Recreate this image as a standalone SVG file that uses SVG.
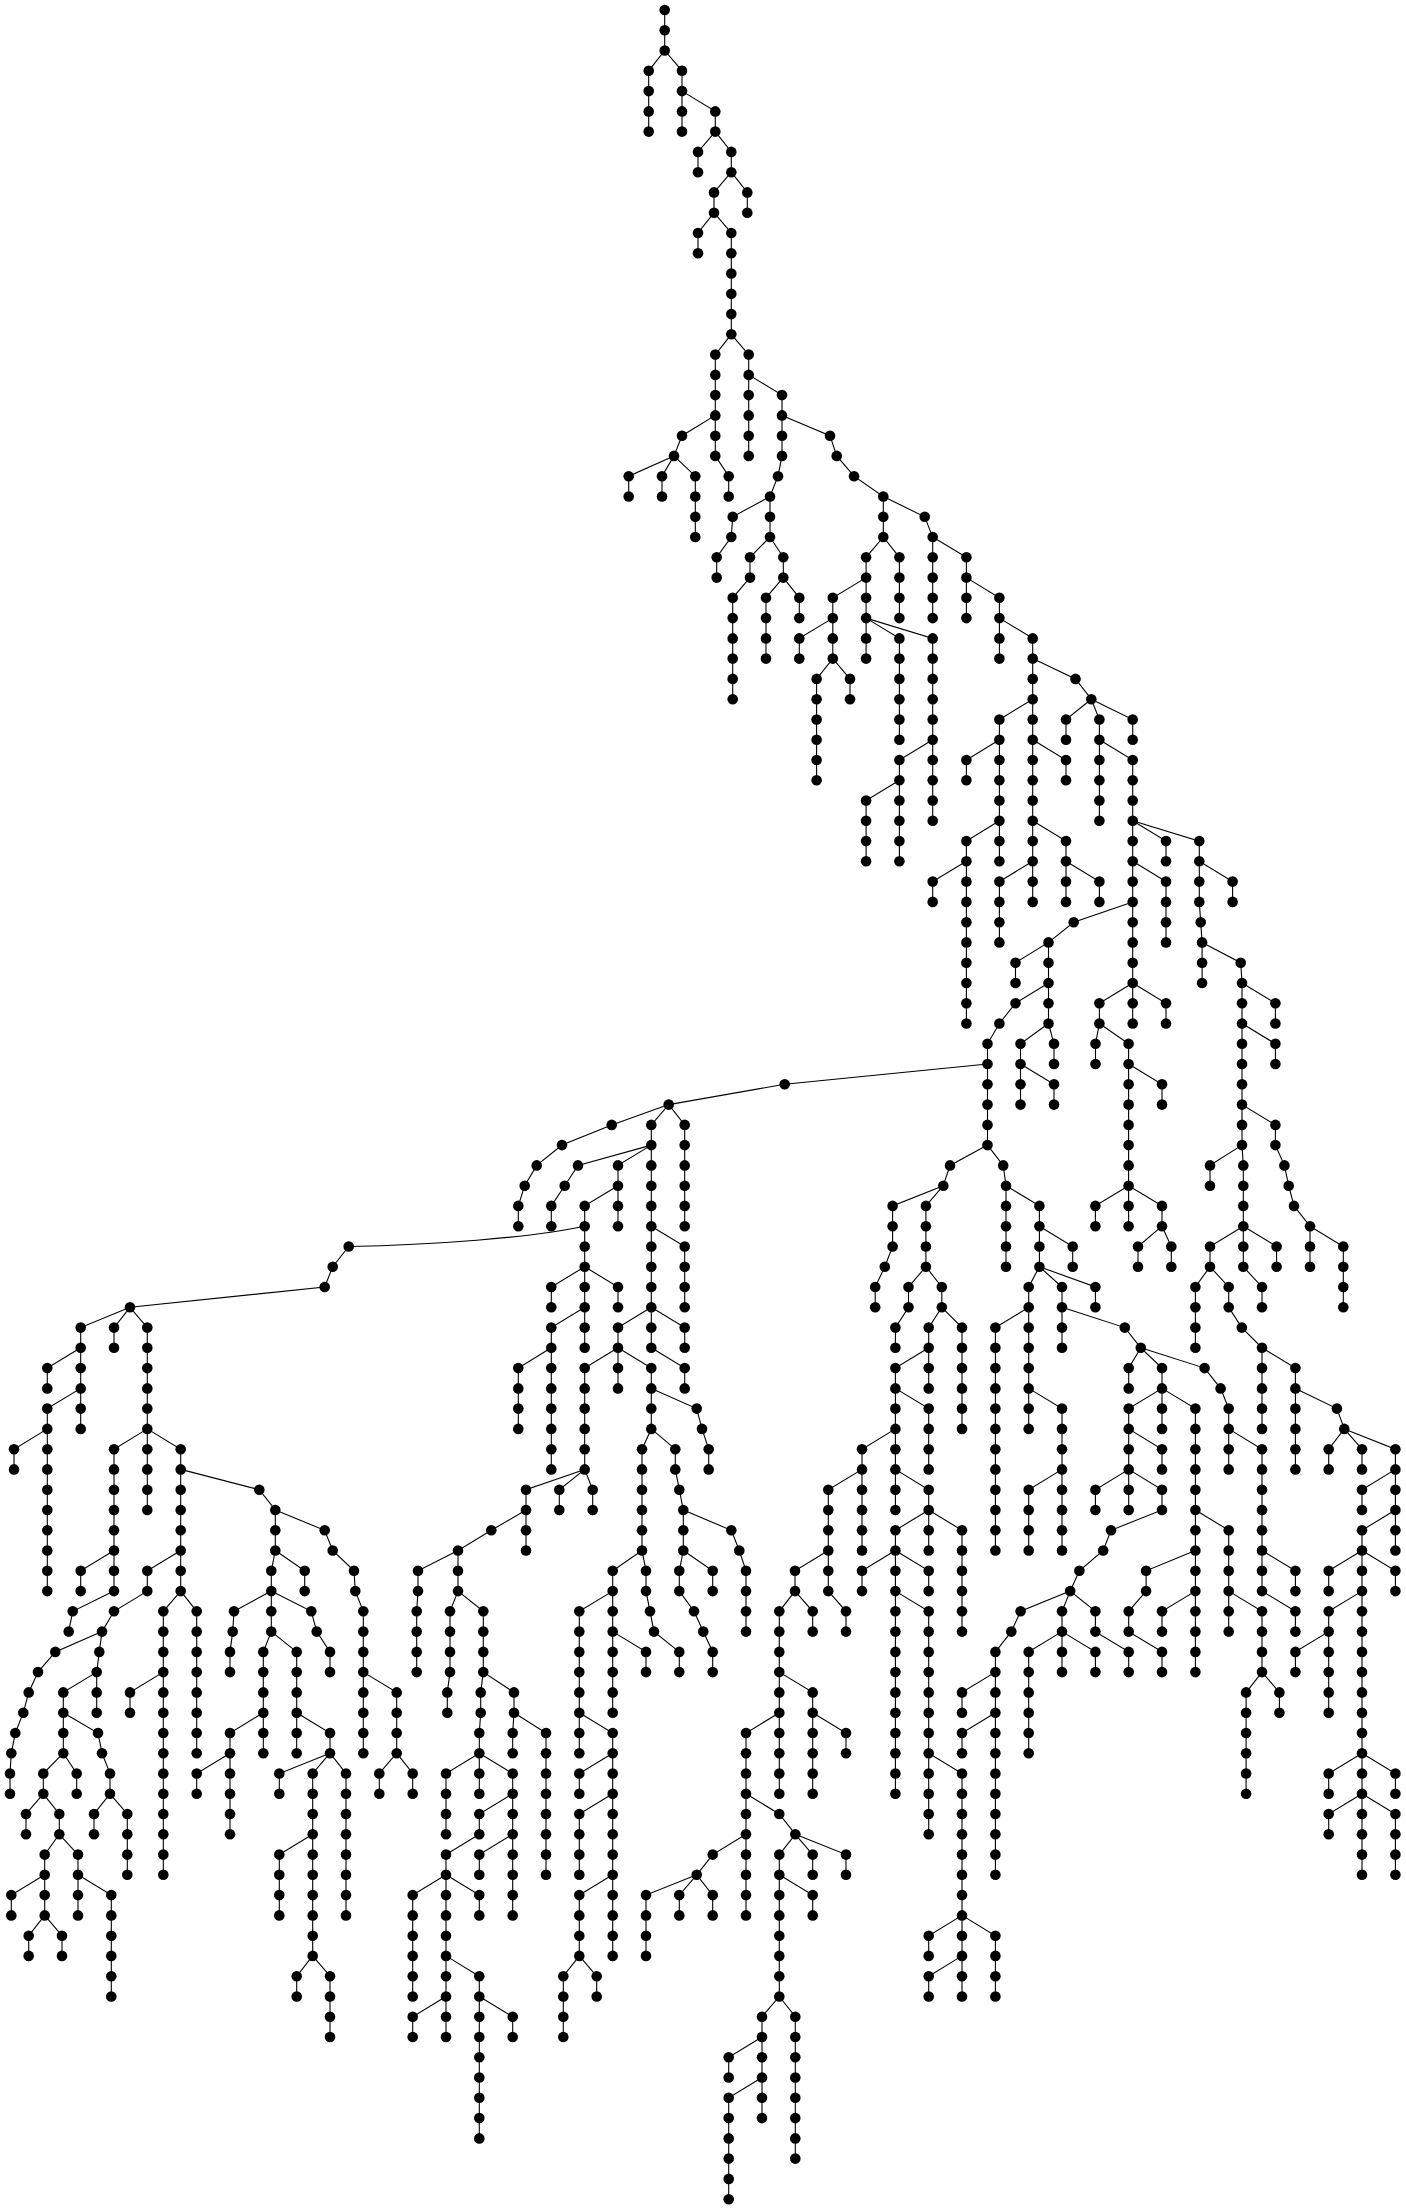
<svg xmlns="http://www.w3.org/2000/svg" width="1406" height="2209" viewBox="0 0 1406 2209">
<style>
rect.bg{fill:#fff}
circle{r:5.3px;fill:#000}
#connectors path{fill:none;stroke:#000;stroke-width:1.1}
</style>
<rect class="bg" width="1406" height="2209"/>
<g id="connectors">
<path d="M664.7 10V50.5"/>
<path d="M664.7 50.5L648.7 70.8V131.6"/>
<path d="M664.7 50.5L682 70.8V131.6"/>
<path d="M682 91.1L715.3 111.4V131.6"/>
<path d="M715.3 131.6L698 151.9V172.2"/>
<path d="M715.3 131.6L731.3 151.9V172.2"/>
<path d="M731.3 172.2L714 192.4V212.7"/>
<path d="M731.3 172.2L747.3 192.4V212.7"/>
<path d="M714 212.7L698 233V253.2"/>
<path d="M714 212.7L731.3 233V334.3"/>
<path d="M731.3 334.3L715.3 354.6V455.9"/>
<path d="M731.3 334.3L748.7 354.6V455.9"/>
<path d="M748.7 374.9L782 395.1V455.9L778 476.2L770 496.5V537"/>
<path d="M715.3 415.4L682 435.7L674 455.9"/>
<path d="M674 455.9L628.7 476.2V496.5"/>
<path d="M674 455.9L662 476.2V496.5"/>
<path d="M674 455.9L695.3 476.2V537"/>
<path d="M715.3 455.9L728.7 476.2V496.5"/>
<path d="M782 415.4L830 435.7L836.7 455.9L854 476.2L883.3 496.5V537"/>
<path d="M883.3 496.5L924.7 516.8L932.7 537V618.1"/>
<path d="M770 496.5L732.7 516.8L731.3 537L716.7 557.3V577.6"/>
<path d="M770 537L750 557.3V577.6L732.7 597.8V699.2"/>
<path d="M770 537L783.3 557.3V577.6L766 597.8V658.6"/>
<path d="M783.3 577.6L799.3 597.8V618.1"/>
<path d="M883.3 537L866.1 557.3V658.6"/>
<path d="M883.3 537L899.4 557.3V618.1"/>
<path d="M866.1 577.6L832.8 597.8V658.6"/>
<path d="M832.8 618.1L799.3 638.4V658.6"/>
<path d="M832.8 658.6L816.6 678.9V780.3"/>
<path d="M832.8 658.6L850 678.9V699.2"/>
<path d="M866.1 618.1L899.4 638.4V739.7"/>
<path d="M866.1 618.1L932.7 638.4V820.8"/>
<path d="M932.7 739.7L899.4 760V861.3"/>
<path d="M899.4 780.3L866.1 800.5V861.3"/>
<path d="M932.7 537L966.4 557.3V618.1"/>
<path d="M966.4 577.6L999.4 597.8V658.6"/>
<path d="M999.4 618.1L1032.7 638.4V901.9"/>
<path d="M1032.7 658.6L1075.5 678.9L1091.3 699.2"/>
<path d="M1032.7 699.2L999.4 719.5V861.3"/>
<path d="M999.4 739.7L966.4 760V780.3"/>
<path d="M999.4 820.8L966.4 841.1V1023.5"/>
<path d="M966.4 861.3L932.7 881.6V901.9"/>
<path d="M1032.7 739.7L1066 760V780.3"/>
<path d="M1032.7 820.8L1066 841.1V901.9"/>
<path d="M1066 861.3L1099.4 881.6V901.9"/>
<path d="M1032.7 861.3L999.4 881.6V942.4"/>
<path d="M1091.3 699.2L1066 719.5V739.7"/>
<path d="M1091.3 699.2L1099.4 719.5V820.8"/>
<path d="M1091.3 699.2L1132.7 719.5V739.7"/>
<path d="M1099.4 739.7L1132.7 760V1023.5"/>
<path d="M1132.7 820.8L1166 841.1V861.3"/>
<path d="M1132.7 820.8L1199.3 841.1V901.9L1200.7 922.2L1202.1 942.4V983"/>
<path d="M1199.3 861.3L1232.6 881.6V901.9"/>
<path d="M1202.1 942.4L1240.7 962.7L1242 983V1145.1"/>
<path d="M1242 983L1275.4 1003.2V1023.5"/>
<path d="M1242 1023.5L1275.4 1043.8V1064"/>
<path d="M1242 1104.6L1275.4 1124.9V1145.1L1284.4 1165.4L1288.7 1185.7L1294 1205.9L1310 1226.2V1266.7"/>
<path d="M1310 1226.2L1343.3 1246.5V1307.3"/>
<path d="M1242 1145.1L1243.3 1165.4V1266.7"/>
<path d="M1242 1145.1L1210 1165.4V1185.7"/>
<path d="M1243.3 1226.2L1210 1246.5V1266.7"/>
<path d="M1243.3 1226.2L1276.6 1246.5V1266.7"/>
<path d="M1243.3 1266.7L1262 1287V1307.3"/>
<path d="M1210 1266.7L1195.4 1287V1347.8"/>
<path d="M1210 1266.7L1228.7 1287V1307.3L1241.8 1327.6L1262 1347.8V1428.9"/>
<path d="M1262 1347.8L1295.4 1368.1V1469.4"/>
<path d="M1295.4 1388.4L1336.9 1408.6L1344.3 1428.9"/>
<path d="M1344.3 1428.9L1328.7 1449.2V1469.4"/>
<path d="M1344.3 1428.9L1362 1449.2V1469.4"/>
<path d="M1344.3 1428.9L1395.4 1449.2V1550.5"/>
<path d="M1395.4 1469.4L1362 1489.7V1510"/>
<path d="M1395.4 1510L1362 1530.3V1874.8"/>
<path d="M1362 1550.5L1328.7 1570.8V1591.1"/>
<path d="M1362 1550.5L1395.4 1570.8V1591.1"/>
<path d="M1362 1591.1L1328.7 1611.3V1712.7"/>
<path d="M1328.7 1651.9M1328.7 1631.6L1295.4 1651.9V1672.1"/>
<path d="M1362 1753.2L1328.7 1773.5V1793.8"/>
<path d="M1362 1753.2L1395.4 1773.5V1793.8"/>
<path d="M1362 1793.8L1328.7 1814V1834.3"/>
<path d="M1362 1793.8L1395.4 1814V1874.8"/>
<path d="M1132.7 861.3L1166 881.6V942.4"/>
<path d="M1132.7 901.9L1073.7 922.2L1048.5 942.4V1023.5"/>
<path d="M1048.5 942.4L1015.5 962.7V983"/>
<path d="M1048.5 983L1015.5 1003.2L999.4 1023.5L987.5 1043.8V1145.1"/>
<path d="M1048.5 1023.5L1020.5 1043.8V1104.6"/>
<path d="M1048.5 1023.5L1054 1043.8V1064"/>
<path d="M1020.5 1064L1054 1084.3V1104.6"/>
<path d="M1132.7 983L1099.4 1003.2V1023.5"/>
<path d="M1132.7 983L1166 1003.2V1023.5"/>
<path d="M1099.4 1023.5L1095.5 1043.8V1064"/>
<path d="M1099.4 1023.5L1128.6 1043.8V1226.2"/>
<path d="M1128.6 1064L1162 1084.3V1104.6"/>
<path d="M1128.6 1185.7L1095.4 1205.9V1226.2"/>
<path d="M1128.6 1185.7L1162 1205.9V1226.2"/>
<path d="M1162 1226.2L1138 1246.5V1266.7"/>
<path d="M1162 1226.2L1171.3 1246.5V1266.7"/>
<path d="M987.5 1145.1L950 1165.4L943.3 1185.7"/>
<path d="M943.3 1185.7L892.6 1205.9V1246.5L884.8 1266.7L875.2 1287V1307.3"/>
<path d="M943.3 1185.7L925.9 1205.9V1266.7"/>
<path d="M925.9 1266.7L908.5 1287V1307.3L895.4 1327.6V1347.8"/>
<path d="M925.9 1266.7L941.8 1287V1307.3"/>
<path d="M941.8 1307.3L928.7 1327.6V1388.4"/>
<path d="M941.8 1307.3L962 1327.6V1428.9"/>
<path d="M928.7 1347.8L895.4 1368.1V1510"/>
<path d="M895.4 1388.4L928.7 1408.6V1469.4"/>
<path d="M895.4 1428.9L862 1449.2V1550.5"/>
<path d="M895.4 1469.4L928.7 1489.7V1550.5"/>
<path d="M928.7 1510L895.4 1530.3V1793.8"/>
<path d="M928.7 1510L962 1530.3V1631.6"/>
<path d="M895.4 1550.5L862 1570.8V1591.1"/>
<path d="M895.4 1550.5L928.7 1570.8V1591.1"/>
<path d="M895.4 1591.1L928.7 1611.3V1834.3"/>
<path d="M928.7 1753.2L962 1773.5V1996.5"/>
<path d="M962 1915.4L928.7 1935.7V1955.9"/>
<path d="M962 1915.4L995.4 1935.7V1996.5"/>
<path d="M962 1955.9L928.7 1976.2V1996.5"/>
<path d="M987.5 1145.1L1003.2 1165.4L1006 1185.7V1266.7"/>
<path d="M1006 1185.7L1039.4 1205.9V1266.7"/>
<path d="M1039.4 1226.2L1072.7 1246.5V1266.7"/>
<path d="M1039.4 1266.7L1028.7 1287V1428.9"/>
<path d="M1039.4 1266.7L1062 1287V1347.8"/>
<path d="M1039.4 1266.7L1095.4 1287V1307.3"/>
<path d="M1062 1307.3L1124.8 1327.6L1140.8 1347.8"/>
<path d="M1028.7 1307.3L995.4 1327.6V1550.5"/>
<path d="M1028.7 1388.4L1062 1408.6V1550.5"/>
<path d="M1062 1469.4L1028.7 1489.7V1550.5"/>
<path d="M1140.8 1347.8L1128.7 1368.1V1388.4"/>
<path d="M1140.8 1347.8L1162 1368.1V1388.4"/>
<path d="M1140.8 1347.8L1204.6 1368.1L1220.6 1388.4L1228.7 1408.6V1469.4"/>
<path d="M1162 1388.4L1128.7 1408.6V1510"/>
<path d="M1162 1388.4L1162 1408.6V1428.9"/>
<path d="M1162 1388.4L1195.4 1408.6V1672.1"/>
<path d="M1128.7 1428.9L1162 1449.2V1469.4"/>
<path d="M1128.7 1469.4L1095.4 1489.7V1510"/>
<path d="M1128.7 1469.4L1162 1489.7V1510L1111 1530.3L1103.2 1550.5L1079.4 1570.8L1070.2 1591.1"/>
<path d="M1070.2 1591.1L1020.6 1611.3L1011.3 1631.6L995.4 1651.9V1874.8"/>
<path d="M995.4 1672.1L962 1692.4V1712.7"/>
<path d="M995.4 1712.7L962 1733V1753.2"/>
<path d="M1070.2 1591.1L1062 1611.3V1672.1"/>
<path d="M1062 1631.6L1028.7 1651.9V1753.2"/>
<path d="M1062 1631.6L1095.4 1651.9V1672.1"/>
<path d="M1070.2 1591.1L1095.4 1611.3V1631.6L1128.7 1651.9V1672.1"/>
<path d="M1195.4 1510L1228.7 1530.3V1631.6"/>
<path d="M1228.7 1428.9L1262 1449.2V1591.1"/>
<path d="M1262 1550.5L1295.4 1570.8V1591.1"/>
<path d="M1262 1591.1L1295.4 1611.3V1631.6"/>
<path d="M1228.7 1591.1L1262 1611.3V1672.1"/>
<path d="M1262 1672.1L1246.1 1692.4V1793.8"/>
<path d="M1262 1672.1L1279.4 1692.4V1712.7"/>
<path d="M1195.4 1550.5L1146.1 1570.8V1591.1L1128.7 1611.3V1631.6L1162 1651.9V1672.1"/>
<path d="M1195.4 1591.1L1162 1611.3V1631.6"/>
<path d="M987.5 1064L784.7 1084.3L668.7 1104.6"/>
<path d="M668.7 1104.6L611.7 1124.9L562 1145.1L536.7 1165.4L524.7 1185.7L518.3 1205.9V1226.2"/>
<path d="M668.7 1104.6L651.3 1124.9V1347.8"/>
<path d="M668.7 1104.6L684.7 1124.9V1226.2"/>
<path d="M651.3 1226.2L684.7 1246.5V1307.3"/>
<path d="M651.3 1145.1L578 1165.4L564.7 1185.7L551.3 1205.9V1226.2"/>
<path d="M651.3 1145.1L618 1165.4V1226.2"/>
<path d="M618 1185.7L584.7 1205.9V1347.8"/>
<path d="M584.7 1266.7L551.3 1287V1307.3"/>
<path d="M584.7 1266.7L618 1287V1307.3"/>
<path d="M584.7 1307.3L551.3 1327.6V1469.4"/>
<path d="M551.3 1347.8L518.3 1368.1V1428.9"/>
<path d="M651.3 1307.3L618 1327.6V1388.4"/>
<path d="M651.3 1307.3L684.7 1327.6V1347.8"/>
<path d="M618 1347.8L584.7 1368.1V1469.4"/>
<path d="M618 1347.8L651.3 1368.1V1428.9"/>
<path d="M651.3 1347.8L684.7 1368.1V1388.4"/>
<path d="M651.3 1388.4L696.7 1408.6L702 1428.9L708.7 1449.2V1469.4"/>
<path d="M651.3 1428.9L642 1449.2V1550.5"/>
<path d="M651.3 1428.9L675.3 1449.2V1469.4L679.3 1489.7L683.3 1510V1550.5"/>
<path d="M584.7 1469.4L526 1489.7V1550.5"/>
<path d="M584.7 1469.4L559.3 1489.7V1510"/>
<path d="M584.7 1469.4L592.7 1489.7V1510"/>
<path d="M526 1510L491.3 1530.3L458 1550.5V1591.1"/>
<path d="M458 1550.5L418 1570.8V1591.1L416.7 1611.3V1672.1"/>
<path d="M458 1591.1L450 1611.3V1672.1L447.3 1692.4V1712.7"/>
<path d="M458 1591.1L483.3 1611.3V1672.1L480.7 1692.4V1712.7L479.3 1733V1793.8"/>
<path d="M483.3 1672.1L514 1692.4V1712.7"/>
<path d="M514 1712.7L512.7 1733V1753.2"/>
<path d="M514 1712.7L546 1733V1874.8"/>
<path d="M479.3 1753.2L446 1773.5V1834.3"/>
<path d="M479.3 1753.2L512.7 1773.5V1915.4"/>
<path d="M512.7 1793.8L479.3 1814V1834.3"/>
<path d="M512.7 1834.3L479.3 1854.6V1874.8"/>
<path d="M479.3 1834.3L446 1854.6V2037"/>
<path d="M446 1874.8L412.7 1895.1V1996.5"/>
<path d="M446 1874.8L479.3 1895.1V1915.4"/>
<path d="M446 1955.9L479.3 1976.2V2138.4"/>
<path d="M446 1996.5L412.7 2016.7V2037"/>
<path d="M479.3 1996.5L512.7 2016.7V2037"/>
<path d="M642 1550.5L612.7 1570.8V1712.7"/>
<path d="M642 1550.5L646 1570.8V1591.1L650 1611.3L654 1631.6L679.3 1651.9V1672.1"/>
<path d="M612.7 1591.1L579.3 1611.3V1753.2"/>
<path d="M612.7 1631.6L646 1651.9V1672.1"/>
<path d="M579.3 1712.7L612.7 1733V1955.9"/>
<path d="M612.7 1753.2L579.3 1773.5V1793.8"/>
<path d="M612.7 1793.8L579.3 1814V1874.8"/>
<path d="M612.7 1874.8L579.3 1895.1V1955.9"/>
<path d="M579.3 1955.9L563.3 1976.2V2037"/>
<path d="M579.3 1955.9L596.7 1976.2V1996.5"/>
<path d="M683.3 1510L731.3 1530.3L739.3 1550.5L746 1570.8V1631.6"/>
<path d="M683.3 1550.5L679.3 1570.8V1591.1L694 1611.3L703.3 1631.6L712.7 1651.9V1672.1"/>
<path d="M683.3 1550.5L712.7 1570.8V1591.1"/>
<path d="M862 1469.4L828.3 1489.7V1591.1"/>
<path d="M828.3 1550.5L795 1570.8V1591.1"/>
<path d="M795 1591.1L779.3 1611.3V1793.8"/>
<path d="M795 1591.1L812.7 1611.3V1631.6"/>
<path d="M828.3 1591.1L846 1611.3V1631.6"/>
<path d="M779.3 1672.1L812.7 1692.4V1793.8"/>
<path d="M812.7 1712.7L846 1733V1753.2"/>
<path d="M779.3 1712.7L746 1733V1915.4"/>
<path d="M746 1793.8L779.3 1814L795.3 1834.3"/>
<path d="M746 1834.3L712.7 1854.6L696.7 1874.8"/>
<path d="M696.7 1874.8L646 1895.1V1955.9"/>
<path d="M696.7 1874.8L679.3 1895.1V1915.4"/>
<path d="M696.7 1874.8L712.7 1895.1V1915.4"/>
<path d="M795.3 1834.3L779.3 1854.6V1996.5"/>
<path d="M795.3 1834.3L812.7 1854.6V1874.8"/>
<path d="M795.3 1834.3L846 1854.6V1874.8"/>
<path d="M779.3 1874.8L812.7 1895.1V1915.4"/>
<path d="M779.3 1996.5L762 2016.7V2118.1"/>
<path d="M779.3 1996.5L795.3 2016.7V2158.6"/>
<path d="M762 2037L728.7 2057.3V2077.5"/>
<path d="M762 2077.5L728.7 2097.8V2199.2"/>
<path d="M584.7 1226.2C530 1238 430 1245 348.7 1246.5L332.7 1266.7L324.7 1287L130 1307.3"/>
<path d="M130 1307.3L80.7 1327.6V1428.9"/>
<path d="M130 1307.3L114 1327.6V1347.8"/>
<path d="M130 1307.3L147.3 1327.6V1428.9"/>
<path d="M80.7 1347.8L47.3 1368.1V1388.4"/>
<path d="M80.7 1388.4L47.3 1408.6V1591.1"/>
<path d="M47.3 1428.9L14 1449.2V1469.4"/>
<path d="M147.3 1428.9L114 1449.2V1591.1"/>
<path d="M147.3 1428.9L147.3 1449.2V1510"/>
<path d="M147.3 1428.9L180.7 1449.2V1591.1"/>
<path d="M114 1550.5L80.7 1570.8V1591.1"/>
<path d="M180.7 1469.4L259.3 1489.7L275.3 1510V1550.5"/>
<path d="M180.7 1550.5L147.3 1570.8V1591.1"/>
<path d="M180.7 1591.1L163.3 1611.3V1874.8"/>
<path d="M180.7 1591.1L196.7 1611.3V1753.2"/>
<path d="M163.3 1672.1L130 1692.4V1712.7"/>
<path d="M114 1591.1L72.7 1611.3L68.7 1631.6"/>
<path d="M147.3 1591.1L114 1611.3L102 1631.6"/>
<path d="M102 1631.6L55.3 1651.9L38 1672.1L28.7 1692.4L23.3 1712.7L15.3 1733L11.3 1753.2L10 1773.5V1793.8"/>
<path d="M102 1631.6L99.3 1651.9L96.7 1672.1V1712.7"/>
<path d="M96.7 1672.1L63.3 1692.4V1753.2"/>
<path d="M63.3 1712.7L98 1733L102 1753.2L110 1773.5V1793.8"/>
<path d="M110 1793.8L94 1814V1834.3"/>
<path d="M110 1793.8L127.3 1814V1874.8"/>
<path d="M63.3 1753.2L43.3 1773.5V1793.8"/>
<path d="M63.3 1753.2L76.7 1773.5V1793.8"/>
<path d="M43.3 1793.8L26 1814V1834.3"/>
<path d="M43.3 1793.8L59.3 1814V1834.3"/>
<path d="M59.3 1834.3L44.7 1854.6V1915.4"/>
<path d="M59.3 1834.3L78 1854.6V1915.4"/>
<path d="M44.7 1874.8L11.3 1895.1V1915.4"/>
<path d="M44.7 1915.4L28.7 1935.7V1955.9"/>
<path d="M44.7 1915.4L62 1935.7V1955.9"/>
<path d="M78 1874.8L111.3 1895.1V1996.5"/>
<path d="M275.3 1550.5L271.3 1570.8V1631.6"/>
<path d="M275.3 1550.5L304.7 1570.8V1591.1"/>
<path d="M271.3 1591.1L234 1611.3L232.7 1631.6L230 1651.9V1672.1"/>
<path d="M271.3 1631.6L263.3 1651.9V1753.2"/>
<path d="M271.3 1631.6L296.7 1651.9V1753.2"/>
<path d="M271.3 1591.1L311.3 1611.3L316.7 1631.6L330 1651.9V1672.1"/>
<path d="M263.3 1712.7L230 1733V1834.3"/>
<path d="M230 1753.2L196.7 1773.5V1793.8"/>
<path d="M296.7 1712.7L330 1733V1753.2"/>
<path d="M330 1753.2L279.3 1773.5V1793.8"/>
<path d="M330 1753.2L312.7 1773.5V1955.9"/>
<path d="M330 1753.2L346 1773.5V1915.4"/>
<path d="M312.7 1834.3L279.3 1854.6V1915.4"/>
<path d="M312.7 1955.9L296.7 1976.2V1996.5"/>
<path d="M312.7 1955.9L330 1976.2V2037"/>
<path d="M275.3 1510L324.7 1530.3L332.7 1550.5L354 1570.8L355.3 1591.1L363.3 1611.3V1753.2"/>
<path d="M363.3 1672.1L396.7 1692.4V1753.2"/>
<path d="M396.7 1753.2L379.3 1773.5V1793.8"/>
<path d="M396.7 1753.2L412.7 1773.5V1793.8"/>
</g>
<g id="n664_0"><circle cx="664.7" cy="10"/></g>
<g id="n664_1"><circle cx="664.7" cy="30.3"/></g>
<g id="n664_2"><circle cx="664.7" cy="50.5"/></g>
<g id="n648_3"><circle cx="648.7" cy="70.8"/></g>
<g id="n648_4"><circle cx="648.7" cy="91.1"/></g>
<g id="n648_5"><circle cx="648.7" cy="111.4"/></g>
<g id="n648_6"><circle cx="648.7" cy="131.6"/></g>
<g id="n682_3"><circle cx="682" cy="70.8"/></g>
<g id="n682_4"><circle cx="682" cy="91.1"/></g>
<g id="n682_5"><circle cx="682" cy="111.4"/></g>
<g id="n682_6"><circle cx="682" cy="131.6"/></g>
<g id="n715_5"><circle cx="715.3" cy="111.4"/></g>
<g id="n715_6"><circle cx="715.3" cy="131.6"/></g>
<g id="n698_7"><circle cx="698" cy="151.9"/></g>
<g id="n698_8"><circle cx="698" cy="172.2"/></g>
<g id="n731_7"><circle cx="731.3" cy="151.9"/></g>
<g id="n731_8"><circle cx="731.3" cy="172.2"/></g>
<g id="n714_9"><circle cx="714" cy="192.4"/></g>
<g id="n714_10"><circle cx="714" cy="212.7"/></g>
<g id="n747_9"><circle cx="747.3" cy="192.4"/></g>
<g id="n747_10"><circle cx="747.3" cy="212.7"/></g>
<g id="n698_11"><circle cx="698" cy="233"/></g>
<g id="n698_12"><circle cx="698" cy="253.2"/></g>
<g id="n731_11"><circle cx="731.3" cy="233"/></g>
<g id="n731_12"><circle cx="731.3" cy="253.2"/></g>
<g id="n731_13"><circle cx="731.3" cy="273.5"/></g>
<g id="n731_14"><circle cx="731.3" cy="293.8"/></g>
<g id="n731_15"><circle cx="731.3" cy="314.1"/></g>
<g id="n731_16"><circle cx="731.3" cy="334.3"/></g>
<g id="n715_17"><circle cx="715.3" cy="354.6"/></g>
<g id="n715_18"><circle cx="715.3" cy="374.9"/></g>
<g id="n715_19"><circle cx="715.3" cy="395.1"/></g>
<g id="n715_20"><circle cx="715.3" cy="415.4"/></g>
<g id="n715_21"><circle cx="715.3" cy="435.7"/></g>
<g id="n715_22"><circle cx="715.3" cy="455.9"/></g>
<g id="n748_17"><circle cx="748.7" cy="354.6"/></g>
<g id="n748_18"><circle cx="748.7" cy="374.9"/></g>
<g id="n748_19"><circle cx="748.7" cy="395.1"/></g>
<g id="n748_20"><circle cx="748.7" cy="415.4"/></g>
<g id="n748_21"><circle cx="748.7" cy="435.7"/></g>
<g id="n748_22"><circle cx="748.7" cy="455.9"/></g>
<g id="n782_19"><circle cx="782" cy="395.1"/></g>
<g id="n782_20"><circle cx="782" cy="415.4"/></g>
<g id="n782_21"><circle cx="782" cy="435.7"/></g>
<g id="n782_22"><circle cx="782" cy="455.9"/></g>
<g id="n778_23"><circle cx="778" cy="476.2"/></g>
<g id="n770_24"><circle cx="770" cy="496.5"/></g>
<g id="n770_25"><circle cx="770" cy="516.8"/></g>
<g id="n770_26"><circle cx="770" cy="537"/></g>
<g id="n682_21"><circle cx="682" cy="435.7"/></g>
<g id="n674_22"><circle cx="674" cy="455.9"/></g>
<g id="n628_23"><circle cx="628.7" cy="476.2"/></g>
<g id="n628_24"><circle cx="628.7" cy="496.5"/></g>
<g id="n662_23"><circle cx="662" cy="476.2"/></g>
<g id="n662_24"><circle cx="662" cy="496.5"/></g>
<g id="n695_23"><circle cx="695.3" cy="476.2"/></g>
<g id="n695_24"><circle cx="695.3" cy="496.5"/></g>
<g id="n695_25"><circle cx="695.3" cy="516.8"/></g>
<g id="n695_26"><circle cx="695.3" cy="537"/></g>
<g id="n728_23"><circle cx="728.7" cy="476.2"/></g>
<g id="n728_24"><circle cx="728.7" cy="496.5"/></g>
<g id="n830_21"><circle cx="830" cy="435.7"/></g>
<g id="n836_22"><circle cx="836.7" cy="455.9"/></g>
<g id="n854_23"><circle cx="854" cy="476.2"/></g>
<g id="n883_24"><circle cx="883.3" cy="496.5"/></g>
<g id="n883_25"><circle cx="883.3" cy="516.8"/></g>
<g id="n883_26"><circle cx="883.3" cy="537"/></g>
<g id="n924_25"><circle cx="924.7" cy="516.8"/></g>
<g id="n932_26"><circle cx="932.7" cy="537"/></g>
<g id="n932_27"><circle cx="932.7" cy="557.3"/></g>
<g id="n932_28"><circle cx="932.7" cy="577.6"/></g>
<g id="n932_29"><circle cx="932.7" cy="597.8"/></g>
<g id="n932_30"><circle cx="932.7" cy="618.1"/></g>
<g id="n732_25"><circle cx="732.7" cy="516.8"/></g>
<g id="n731_26"><circle cx="731.3" cy="537"/></g>
<g id="n716_27"><circle cx="716.7" cy="557.3"/></g>
<g id="n716_28"><circle cx="716.7" cy="577.6"/></g>
<g id="n750_27"><circle cx="750" cy="557.3"/></g>
<g id="n750_28"><circle cx="750" cy="577.6"/></g>
<g id="n732_29"><circle cx="732.7" cy="597.8"/></g>
<g id="n732_30"><circle cx="732.7" cy="618.1"/></g>
<g id="n732_31"><circle cx="732.7" cy="638.4"/></g>
<g id="n732_32"><circle cx="732.7" cy="658.6"/></g>
<g id="n732_33"><circle cx="732.7" cy="678.9"/></g>
<g id="n732_34"><circle cx="732.7" cy="699.2"/></g>
<g id="n783_27"><circle cx="783.3" cy="557.3"/></g>
<g id="n783_28"><circle cx="783.3" cy="577.6"/></g>
<g id="n766_29"><circle cx="766" cy="597.8"/></g>
<g id="n766_30"><circle cx="766" cy="618.1"/></g>
<g id="n766_31"><circle cx="766" cy="638.4"/></g>
<g id="n766_32"><circle cx="766" cy="658.6"/></g>
<g id="n799_29"><circle cx="799.3" cy="597.8"/></g>
<g id="n799_30"><circle cx="799.3" cy="618.1"/></g>
<g id="n866_27"><circle cx="866.1" cy="557.3"/></g>
<g id="n866_28"><circle cx="866.1" cy="577.6"/></g>
<g id="n866_29"><circle cx="866.1" cy="597.8"/></g>
<g id="n866_30"><circle cx="866.1" cy="618.1"/></g>
<g id="n866_31"><circle cx="866.1" cy="638.4"/></g>
<g id="n866_32"><circle cx="866.1" cy="658.6"/></g>
<g id="n899_27"><circle cx="899.4" cy="557.3"/></g>
<g id="n899_28"><circle cx="899.4" cy="577.6"/></g>
<g id="n899_29"><circle cx="899.4" cy="597.8"/></g>
<g id="n899_30"><circle cx="899.4" cy="618.1"/></g>
<g id="n832_29"><circle cx="832.8" cy="597.8"/></g>
<g id="n832_30"><circle cx="832.8" cy="618.1"/></g>
<g id="n832_31"><circle cx="832.8" cy="638.4"/></g>
<g id="n832_32"><circle cx="832.8" cy="658.6"/></g>
<g id="n799_31"><circle cx="799.3" cy="638.4"/></g>
<g id="n799_32"><circle cx="799.3" cy="658.6"/></g>
<g id="n816_33"><circle cx="816.6" cy="678.9"/></g>
<g id="n816_34"><circle cx="816.6" cy="699.2"/></g>
<g id="n816_35"><circle cx="816.6" cy="719.5"/></g>
<g id="n816_36"><circle cx="816.6" cy="739.7"/></g>
<g id="n816_37"><circle cx="816.6" cy="760"/></g>
<g id="n816_38"><circle cx="816.6" cy="780.3"/></g>
<g id="n850_33"><circle cx="850" cy="678.9"/></g>
<g id="n850_34"><circle cx="850" cy="699.2"/></g>
<g id="n899_31"><circle cx="899.4" cy="638.4"/></g>
<g id="n899_32"><circle cx="899.4" cy="658.6"/></g>
<g id="n899_33"><circle cx="899.4" cy="678.9"/></g>
<g id="n899_34"><circle cx="899.4" cy="699.2"/></g>
<g id="n899_35"><circle cx="899.4" cy="719.5"/></g>
<g id="n899_36"><circle cx="899.4" cy="739.7"/></g>
<g id="n932_31"><circle cx="932.7" cy="638.4"/></g>
<g id="n932_32"><circle cx="932.7" cy="658.6"/></g>
<g id="n932_33"><circle cx="932.7" cy="678.9"/></g>
<g id="n932_34"><circle cx="932.7" cy="699.2"/></g>
<g id="n932_35"><circle cx="932.7" cy="719.5"/></g>
<g id="n932_36"><circle cx="932.7" cy="739.7"/></g>
<g id="n932_37"><circle cx="932.7" cy="760"/></g>
<g id="n932_38"><circle cx="932.7" cy="780.3"/></g>
<g id="n932_39"><circle cx="932.7" cy="800.5"/></g>
<g id="n932_40"><circle cx="932.7" cy="820.8"/></g>
<g id="n899_37"><circle cx="899.4" cy="760"/></g>
<g id="n899_38"><circle cx="899.4" cy="780.3"/></g>
<g id="n899_39"><circle cx="899.4" cy="800.5"/></g>
<g id="n899_40"><circle cx="899.4" cy="820.8"/></g>
<g id="n899_41"><circle cx="899.4" cy="841.1"/></g>
<g id="n899_42"><circle cx="899.4" cy="861.3"/></g>
<g id="n866_39"><circle cx="866.1" cy="800.5"/></g>
<g id="n866_40"><circle cx="866.1" cy="820.8"/></g>
<g id="n866_41"><circle cx="866.1" cy="841.1"/></g>
<g id="n866_42"><circle cx="866.1" cy="861.3"/></g>
<g id="n966_27"><circle cx="966.4" cy="557.3"/></g>
<g id="n966_28"><circle cx="966.4" cy="577.6"/></g>
<g id="n966_29"><circle cx="966.4" cy="597.8"/></g>
<g id="n966_30"><circle cx="966.4" cy="618.1"/></g>
<g id="n999_29"><circle cx="999.4" cy="597.8"/></g>
<g id="n999_30"><circle cx="999.4" cy="618.1"/></g>
<g id="n999_31"><circle cx="999.4" cy="638.4"/></g>
<g id="n999_32"><circle cx="999.4" cy="658.6"/></g>
<g id="n1032_31"><circle cx="1032.7" cy="638.4"/></g>
<g id="n1032_32"><circle cx="1032.7" cy="658.6"/></g>
<g id="n1032_33"><circle cx="1032.7" cy="678.9"/></g>
<g id="n1032_34"><circle cx="1032.7" cy="699.2"/></g>
<g id="n1032_35"><circle cx="1032.7" cy="719.5"/></g>
<g id="n1032_36"><circle cx="1032.7" cy="739.7"/></g>
<g id="n1032_37"><circle cx="1032.7" cy="760"/></g>
<g id="n1032_38"><circle cx="1032.7" cy="780.3"/></g>
<g id="n1032_39"><circle cx="1032.7" cy="800.5"/></g>
<g id="n1032_40"><circle cx="1032.7" cy="820.8"/></g>
<g id="n1032_41"><circle cx="1032.7" cy="841.1"/></g>
<g id="n1032_42"><circle cx="1032.7" cy="861.3"/></g>
<g id="n1032_43"><circle cx="1032.7" cy="881.6"/></g>
<g id="n1032_44"><circle cx="1032.7" cy="901.9"/></g>
<g id="n1075_33"><circle cx="1075.5" cy="678.9"/></g>
<g id="n1091_34"><circle cx="1091.3" cy="699.2"/></g>
<g id="n999_35"><circle cx="999.4" cy="719.5"/></g>
<g id="n999_36"><circle cx="999.4" cy="739.7"/></g>
<g id="n999_37"><circle cx="999.4" cy="760"/></g>
<g id="n999_38"><circle cx="999.4" cy="780.3"/></g>
<g id="n999_39"><circle cx="999.4" cy="800.5"/></g>
<g id="n999_40"><circle cx="999.4" cy="820.8"/></g>
<g id="n999_41"><circle cx="999.4" cy="841.1"/></g>
<g id="n999_42"><circle cx="999.4" cy="861.3"/></g>
<g id="n966_37"><circle cx="966.4" cy="760"/></g>
<g id="n966_38"><circle cx="966.4" cy="780.3"/></g>
<g id="n966_41"><circle cx="966.4" cy="841.1"/></g>
<g id="n966_42"><circle cx="966.4" cy="861.3"/></g>
<g id="n966_43"><circle cx="966.4" cy="881.6"/></g>
<g id="n966_44"><circle cx="966.4" cy="901.9"/></g>
<g id="n966_45"><circle cx="966.4" cy="922.2"/></g>
<g id="n966_46"><circle cx="966.4" cy="942.4"/></g>
<g id="n966_47"><circle cx="966.4" cy="962.7"/></g>
<g id="n966_48"><circle cx="966.4" cy="983"/></g>
<g id="n966_49"><circle cx="966.4" cy="1003.2"/></g>
<g id="n966_50"><circle cx="966.4" cy="1023.5"/></g>
<g id="n932_43"><circle cx="932.7" cy="881.6"/></g>
<g id="n932_44"><circle cx="932.7" cy="901.9"/></g>
<g id="n1066_37"><circle cx="1066" cy="760"/></g>
<g id="n1066_38"><circle cx="1066" cy="780.3"/></g>
<g id="n1066_41"><circle cx="1066" cy="841.1"/></g>
<g id="n1066_42"><circle cx="1066" cy="861.3"/></g>
<g id="n1066_43"><circle cx="1066" cy="881.6"/></g>
<g id="n1066_44"><circle cx="1066" cy="901.9"/></g>
<g id="n1099_43"><circle cx="1099.4" cy="881.6"/></g>
<g id="n1099_44"><circle cx="1099.4" cy="901.9"/></g>
<g id="n999_43"><circle cx="999.4" cy="881.6"/></g>
<g id="n999_44"><circle cx="999.4" cy="901.9"/></g>
<g id="n999_45"><circle cx="999.4" cy="922.2"/></g>
<g id="n999_46"><circle cx="999.4" cy="942.4"/></g>
<g id="n1066_35"><circle cx="1066" cy="719.5"/></g>
<g id="n1066_36"><circle cx="1066" cy="739.7"/></g>
<g id="n1099_35"><circle cx="1099.4" cy="719.5"/></g>
<g id="n1099_36"><circle cx="1099.4" cy="739.7"/></g>
<g id="n1099_37"><circle cx="1099.4" cy="760"/></g>
<g id="n1099_38"><circle cx="1099.4" cy="780.3"/></g>
<g id="n1099_39"><circle cx="1099.4" cy="800.5"/></g>
<g id="n1099_40"><circle cx="1099.4" cy="820.8"/></g>
<g id="n1132_35"><circle cx="1132.7" cy="719.5"/></g>
<g id="n1132_36"><circle cx="1132.7" cy="739.7"/></g>
<g id="n1132_37"><circle cx="1132.7" cy="760"/></g>
<g id="n1132_38"><circle cx="1132.7" cy="780.3"/></g>
<g id="n1132_39"><circle cx="1132.7" cy="800.5"/></g>
<g id="n1132_40"><circle cx="1132.7" cy="820.8"/></g>
<g id="n1132_41"><circle cx="1132.7" cy="841.1"/></g>
<g id="n1132_42"><circle cx="1132.7" cy="861.3"/></g>
<g id="n1132_43"><circle cx="1132.7" cy="881.6"/></g>
<g id="n1132_44"><circle cx="1132.7" cy="901.9"/></g>
<g id="n1132_45"><circle cx="1132.7" cy="922.2"/></g>
<g id="n1132_46"><circle cx="1132.7" cy="942.4"/></g>
<g id="n1132_47"><circle cx="1132.7" cy="962.7"/></g>
<g id="n1132_48"><circle cx="1132.7" cy="983"/></g>
<g id="n1132_49"><circle cx="1132.7" cy="1003.2"/></g>
<g id="n1132_50"><circle cx="1132.7" cy="1023.5"/></g>
<g id="n1166_41"><circle cx="1166" cy="841.1"/></g>
<g id="n1166_42"><circle cx="1166" cy="861.3"/></g>
<g id="n1199_41"><circle cx="1199.3" cy="841.1"/></g>
<g id="n1199_42"><circle cx="1199.3" cy="861.3"/></g>
<g id="n1199_43"><circle cx="1199.3" cy="881.6"/></g>
<g id="n1199_44"><circle cx="1199.3" cy="901.9"/></g>
<g id="n1200_45"><circle cx="1200.7" cy="922.2"/></g>
<g id="n1202_46"><circle cx="1202.1" cy="942.4"/></g>
<g id="n1202_47"><circle cx="1202.1" cy="962.7"/></g>
<g id="n1202_48"><circle cx="1202.1" cy="983"/></g>
<g id="n1232_43"><circle cx="1232.6" cy="881.6"/></g>
<g id="n1232_44"><circle cx="1232.6" cy="901.9"/></g>
<g id="n1240_47"><circle cx="1240.7" cy="962.7"/></g>
<g id="n1242_48"><circle cx="1242" cy="983"/></g>
<g id="n1242_49"><circle cx="1242" cy="1003.2"/></g>
<g id="n1242_50"><circle cx="1242" cy="1023.5"/></g>
<g id="n1242_51"><circle cx="1242" cy="1043.8"/></g>
<g id="n1242_52"><circle cx="1242" cy="1064"/></g>
<g id="n1242_53"><circle cx="1242" cy="1084.3"/></g>
<g id="n1242_54"><circle cx="1242" cy="1104.6"/></g>
<g id="n1242_55"><circle cx="1242" cy="1124.9"/></g>
<g id="n1242_56"><circle cx="1242" cy="1145.1"/></g>
<g id="n1275_49"><circle cx="1275.4" cy="1003.2"/></g>
<g id="n1275_50"><circle cx="1275.4" cy="1023.5"/></g>
<g id="n1275_51"><circle cx="1275.4" cy="1043.8"/></g>
<g id="n1275_52"><circle cx="1275.4" cy="1064"/></g>
<g id="n1275_55"><circle cx="1275.4" cy="1124.9"/></g>
<g id="n1275_56"><circle cx="1275.4" cy="1145.1"/></g>
<g id="n1284_57"><circle cx="1284.4" cy="1165.4"/></g>
<g id="n1288_58"><circle cx="1288.7" cy="1185.7"/></g>
<g id="n1294_59"><circle cx="1294" cy="1205.9"/></g>
<g id="n1310_60"><circle cx="1310" cy="1226.2"/></g>
<g id="n1310_61"><circle cx="1310" cy="1246.5"/></g>
<g id="n1310_62"><circle cx="1310" cy="1266.7"/></g>
<g id="n1343_61"><circle cx="1343.3" cy="1246.5"/></g>
<g id="n1343_62"><circle cx="1343.3" cy="1266.7"/></g>
<g id="n1343_63"><circle cx="1343.3" cy="1287"/></g>
<g id="n1343_64"><circle cx="1343.3" cy="1307.3"/></g>
<g id="n1243_57"><circle cx="1243.3" cy="1165.4"/></g>
<g id="n1243_58"><circle cx="1243.3" cy="1185.7"/></g>
<g id="n1243_59"><circle cx="1243.3" cy="1205.9"/></g>
<g id="n1243_60"><circle cx="1243.3" cy="1226.2"/></g>
<g id="n1243_61"><circle cx="1243.3" cy="1246.5"/></g>
<g id="n1243_62"><circle cx="1243.3" cy="1266.7"/></g>
<g id="n1210_57"><circle cx="1210" cy="1165.4"/></g>
<g id="n1210_58"><circle cx="1210" cy="1185.7"/></g>
<g id="n1210_61"><circle cx="1210" cy="1246.5"/></g>
<g id="n1210_62"><circle cx="1210" cy="1266.7"/></g>
<g id="n1276_61"><circle cx="1276.6" cy="1246.5"/></g>
<g id="n1276_62"><circle cx="1276.6" cy="1266.7"/></g>
<g id="n1262_63"><circle cx="1262" cy="1287"/></g>
<g id="n1262_64"><circle cx="1262" cy="1307.3"/></g>
<g id="n1195_63"><circle cx="1195.4" cy="1287"/></g>
<g id="n1195_64"><circle cx="1195.4" cy="1307.3"/></g>
<g id="n1195_65"><circle cx="1195.4" cy="1327.6"/></g>
<g id="n1195_66"><circle cx="1195.4" cy="1347.8"/></g>
<g id="n1228_63"><circle cx="1228.7" cy="1287"/></g>
<g id="n1228_64"><circle cx="1228.7" cy="1307.3"/></g>
<g id="n1241_65"><circle cx="1241.8" cy="1327.6"/></g>
<g id="n1262_66"><circle cx="1262" cy="1347.8"/></g>
<g id="n1262_67"><circle cx="1262" cy="1368.1"/></g>
<g id="n1262_68"><circle cx="1262" cy="1388.4"/></g>
<g id="n1262_69"><circle cx="1262" cy="1408.6"/></g>
<g id="n1262_70"><circle cx="1262" cy="1428.9"/></g>
<g id="n1295_67"><circle cx="1295.4" cy="1368.1"/></g>
<g id="n1295_68"><circle cx="1295.4" cy="1388.4"/></g>
<g id="n1295_69"><circle cx="1295.4" cy="1408.6"/></g>
<g id="n1295_70"><circle cx="1295.4" cy="1428.9"/></g>
<g id="n1295_71"><circle cx="1295.4" cy="1449.2"/></g>
<g id="n1295_72"><circle cx="1295.4" cy="1469.4"/></g>
<g id="n1336_69"><circle cx="1336.9" cy="1408.6"/></g>
<g id="n1344_70"><circle cx="1344.3" cy="1428.9"/></g>
<g id="n1328_71"><circle cx="1328.7" cy="1449.2"/></g>
<g id="n1328_72"><circle cx="1328.7" cy="1469.4"/></g>
<g id="n1362_71"><circle cx="1362" cy="1449.2"/></g>
<g id="n1362_72"><circle cx="1362" cy="1469.4"/></g>
<g id="n1395_71"><circle cx="1395.4" cy="1449.2"/></g>
<g id="n1395_72"><circle cx="1395.4" cy="1469.4"/></g>
<g id="n1395_73"><circle cx="1395.4" cy="1489.7"/></g>
<g id="n1395_74"><circle cx="1395.4" cy="1510"/></g>
<g id="n1395_75"><circle cx="1395.4" cy="1530.3"/></g>
<g id="n1395_76"><circle cx="1395.4" cy="1550.5"/></g>
<g id="n1362_73"><circle cx="1362" cy="1489.7"/></g>
<g id="n1362_74"><circle cx="1362" cy="1510"/></g>
<g id="n1362_75"><circle cx="1362" cy="1530.3"/></g>
<g id="n1362_76"><circle cx="1362" cy="1550.5"/></g>
<g id="n1362_77"><circle cx="1362" cy="1570.8"/></g>
<g id="n1362_78"><circle cx="1362" cy="1591.1"/></g>
<g id="n1362_79"><circle cx="1362" cy="1611.3"/></g>
<g id="n1362_80"><circle cx="1362" cy="1631.6"/></g>
<g id="n1362_81"><circle cx="1362" cy="1651.9"/></g>
<g id="n1362_82"><circle cx="1362" cy="1672.1"/></g>
<g id="n1362_83"><circle cx="1362" cy="1692.4"/></g>
<g id="n1362_84"><circle cx="1362" cy="1712.7"/></g>
<g id="n1362_85"><circle cx="1362" cy="1733"/></g>
<g id="n1362_86"><circle cx="1362" cy="1753.2"/></g>
<g id="n1362_87"><circle cx="1362" cy="1773.5"/></g>
<g id="n1362_88"><circle cx="1362" cy="1793.8"/></g>
<g id="n1362_89"><circle cx="1362" cy="1814"/></g>
<g id="n1362_90"><circle cx="1362" cy="1834.3"/></g>
<g id="n1362_91"><circle cx="1362" cy="1854.6"/></g>
<g id="n1362_92"><circle cx="1362" cy="1874.8"/></g>
<g id="n1328_77"><circle cx="1328.7" cy="1570.8"/></g>
<g id="n1328_78"><circle cx="1328.7" cy="1591.1"/></g>
<g id="n1395_77"><circle cx="1395.4" cy="1570.8"/></g>
<g id="n1395_78"><circle cx="1395.4" cy="1591.1"/></g>
<g id="n1328_79"><circle cx="1328.7" cy="1611.3"/></g>
<g id="n1328_80"><circle cx="1328.7" cy="1631.6"/></g>
<g id="n1328_81"><circle cx="1328.7" cy="1651.9"/></g>
<g id="n1328_82"><circle cx="1328.7" cy="1672.1"/></g>
<g id="n1328_83"><circle cx="1328.7" cy="1692.4"/></g>
<g id="n1328_84"><circle cx="1328.7" cy="1712.7"/></g>
<g id="n1295_81"><circle cx="1295.4" cy="1651.9"/></g>
<g id="n1295_82"><circle cx="1295.4" cy="1672.1"/></g>
<g id="n1328_87"><circle cx="1328.7" cy="1773.5"/></g>
<g id="n1328_88"><circle cx="1328.7" cy="1793.8"/></g>
<g id="n1395_87"><circle cx="1395.4" cy="1773.5"/></g>
<g id="n1395_88"><circle cx="1395.4" cy="1793.8"/></g>
<g id="n1328_89"><circle cx="1328.7" cy="1814"/></g>
<g id="n1328_90"><circle cx="1328.7" cy="1834.3"/></g>
<g id="n1395_89"><circle cx="1395.4" cy="1814"/></g>
<g id="n1395_90"><circle cx="1395.4" cy="1834.3"/></g>
<g id="n1395_91"><circle cx="1395.4" cy="1854.6"/></g>
<g id="n1395_92"><circle cx="1395.4" cy="1874.8"/></g>
<g id="n1166_43"><circle cx="1166" cy="881.6"/></g>
<g id="n1166_44"><circle cx="1166" cy="901.9"/></g>
<g id="n1166_45"><circle cx="1166" cy="922.2"/></g>
<g id="n1166_46"><circle cx="1166" cy="942.4"/></g>
<g id="n1073_45"><circle cx="1073.7" cy="922.2"/></g>
<g id="n1048_46"><circle cx="1048.5" cy="942.4"/></g>
<g id="n1048_47"><circle cx="1048.5" cy="962.7"/></g>
<g id="n1048_48"><circle cx="1048.5" cy="983"/></g>
<g id="n1048_49"><circle cx="1048.5" cy="1003.2"/></g>
<g id="n1048_50"><circle cx="1048.5" cy="1023.5"/></g>
<g id="n1015_47"><circle cx="1015.5" cy="962.7"/></g>
<g id="n1015_48"><circle cx="1015.5" cy="983"/></g>
<g id="n1015_49"><circle cx="1015.5" cy="1003.2"/></g>
<g id="n999_50"><circle cx="999.4" cy="1023.5"/></g>
<g id="n987_51"><circle cx="987.5" cy="1043.8"/></g>
<g id="n987_52"><circle cx="987.5" cy="1064"/></g>
<g id="n987_53"><circle cx="987.5" cy="1084.3"/></g>
<g id="n987_54"><circle cx="987.5" cy="1104.6"/></g>
<g id="n987_55"><circle cx="987.5" cy="1124.9"/></g>
<g id="n987_56"><circle cx="987.5" cy="1145.1"/></g>
<g id="n1020_51"><circle cx="1020.5" cy="1043.8"/></g>
<g id="n1020_52"><circle cx="1020.5" cy="1064"/></g>
<g id="n1020_53"><circle cx="1020.5" cy="1084.3"/></g>
<g id="n1020_54"><circle cx="1020.5" cy="1104.6"/></g>
<g id="n1054_51"><circle cx="1054" cy="1043.8"/></g>
<g id="n1054_52"><circle cx="1054" cy="1064"/></g>
<g id="n1054_53"><circle cx="1054" cy="1084.3"/></g>
<g id="n1054_54"><circle cx="1054" cy="1104.6"/></g>
<g id="n1099_49"><circle cx="1099.4" cy="1003.2"/></g>
<g id="n1099_50"><circle cx="1099.4" cy="1023.5"/></g>
<g id="n1166_49"><circle cx="1166" cy="1003.2"/></g>
<g id="n1166_50"><circle cx="1166" cy="1023.5"/></g>
<g id="n1095_51"><circle cx="1095.5" cy="1043.8"/></g>
<g id="n1095_52"><circle cx="1095.5" cy="1064"/></g>
<g id="n1128_51"><circle cx="1128.6" cy="1043.8"/></g>
<g id="n1128_52"><circle cx="1128.6" cy="1064"/></g>
<g id="n1128_53"><circle cx="1128.6" cy="1084.3"/></g>
<g id="n1128_54"><circle cx="1128.6" cy="1104.6"/></g>
<g id="n1128_55"><circle cx="1128.6" cy="1124.9"/></g>
<g id="n1128_56"><circle cx="1128.6" cy="1145.1"/></g>
<g id="n1128_57"><circle cx="1128.6" cy="1165.4"/></g>
<g id="n1128_58"><circle cx="1128.6" cy="1185.7"/></g>
<g id="n1128_59"><circle cx="1128.6" cy="1205.9"/></g>
<g id="n1128_60"><circle cx="1128.6" cy="1226.2"/></g>
<g id="n1162_53"><circle cx="1162" cy="1084.3"/></g>
<g id="n1162_54"><circle cx="1162" cy="1104.6"/></g>
<g id="n1095_59"><circle cx="1095.4" cy="1205.9"/></g>
<g id="n1095_60"><circle cx="1095.4" cy="1226.2"/></g>
<g id="n1162_59"><circle cx="1162" cy="1205.9"/></g>
<g id="n1162_60"><circle cx="1162" cy="1226.2"/></g>
<g id="n1138_61"><circle cx="1138" cy="1246.5"/></g>
<g id="n1138_62"><circle cx="1138" cy="1266.7"/></g>
<g id="n1171_61"><circle cx="1171.3" cy="1246.5"/></g>
<g id="n1171_62"><circle cx="1171.3" cy="1266.7"/></g>
<g id="n950_57"><circle cx="950" cy="1165.4"/></g>
<g id="n943_58"><circle cx="943.3" cy="1185.7"/></g>
<g id="n892_59"><circle cx="892.6" cy="1205.9"/></g>
<g id="n892_60"><circle cx="892.6" cy="1226.2"/></g>
<g id="n892_61"><circle cx="892.6" cy="1246.5"/></g>
<g id="n884_62"><circle cx="884.8" cy="1266.7"/></g>
<g id="n875_63"><circle cx="875.2" cy="1287"/></g>
<g id="n875_64"><circle cx="875.2" cy="1307.3"/></g>
<g id="n925_59"><circle cx="925.9" cy="1205.9"/></g>
<g id="n925_60"><circle cx="925.9" cy="1226.2"/></g>
<g id="n925_61"><circle cx="925.9" cy="1246.5"/></g>
<g id="n925_62"><circle cx="925.9" cy="1266.7"/></g>
<g id="n908_63"><circle cx="908.5" cy="1287"/></g>
<g id="n908_64"><circle cx="908.5" cy="1307.3"/></g>
<g id="n895_65"><circle cx="895.4" cy="1327.6"/></g>
<g id="n895_66"><circle cx="895.4" cy="1347.8"/></g>
<g id="n941_63"><circle cx="941.8" cy="1287"/></g>
<g id="n941_64"><circle cx="941.8" cy="1307.3"/></g>
<g id="n928_65"><circle cx="928.7" cy="1327.6"/></g>
<g id="n928_66"><circle cx="928.7" cy="1347.8"/></g>
<g id="n928_67"><circle cx="928.7" cy="1368.1"/></g>
<g id="n928_68"><circle cx="928.7" cy="1388.4"/></g>
<g id="n962_65"><circle cx="962" cy="1327.6"/></g>
<g id="n962_66"><circle cx="962" cy="1347.8"/></g>
<g id="n962_67"><circle cx="962" cy="1368.1"/></g>
<g id="n962_68"><circle cx="962" cy="1388.4"/></g>
<g id="n962_69"><circle cx="962" cy="1408.6"/></g>
<g id="n962_70"><circle cx="962" cy="1428.9"/></g>
<g id="n895_67"><circle cx="895.4" cy="1368.1"/></g>
<g id="n895_68"><circle cx="895.4" cy="1388.4"/></g>
<g id="n895_69"><circle cx="895.4" cy="1408.6"/></g>
<g id="n895_70"><circle cx="895.4" cy="1428.9"/></g>
<g id="n895_71"><circle cx="895.4" cy="1449.2"/></g>
<g id="n895_72"><circle cx="895.4" cy="1469.4"/></g>
<g id="n895_73"><circle cx="895.4" cy="1489.7"/></g>
<g id="n895_74"><circle cx="895.4" cy="1510"/></g>
<g id="n928_69"><circle cx="928.7" cy="1408.6"/></g>
<g id="n928_70"><circle cx="928.7" cy="1428.9"/></g>
<g id="n928_71"><circle cx="928.7" cy="1449.2"/></g>
<g id="n928_72"><circle cx="928.7" cy="1469.4"/></g>
<g id="n862_71"><circle cx="862" cy="1449.2"/></g>
<g id="n862_72"><circle cx="862" cy="1469.4"/></g>
<g id="n862_73"><circle cx="862" cy="1489.7"/></g>
<g id="n862_74"><circle cx="862" cy="1510"/></g>
<g id="n862_75"><circle cx="862" cy="1530.3"/></g>
<g id="n862_76"><circle cx="862" cy="1550.5"/></g>
<g id="n928_73"><circle cx="928.7" cy="1489.7"/></g>
<g id="n928_74"><circle cx="928.7" cy="1510"/></g>
<g id="n928_75"><circle cx="928.7" cy="1530.3"/></g>
<g id="n928_76"><circle cx="928.7" cy="1550.5"/></g>
<g id="n895_75"><circle cx="895.4" cy="1530.3"/></g>
<g id="n895_76"><circle cx="895.4" cy="1550.5"/></g>
<g id="n895_77"><circle cx="895.4" cy="1570.8"/></g>
<g id="n895_78"><circle cx="895.4" cy="1591.1"/></g>
<g id="n895_79"><circle cx="895.4" cy="1611.3"/></g>
<g id="n895_80"><circle cx="895.4" cy="1631.6"/></g>
<g id="n895_81"><circle cx="895.4" cy="1651.9"/></g>
<g id="n895_82"><circle cx="895.4" cy="1672.1"/></g>
<g id="n895_83"><circle cx="895.4" cy="1692.4"/></g>
<g id="n895_84"><circle cx="895.4" cy="1712.7"/></g>
<g id="n895_85"><circle cx="895.4" cy="1733"/></g>
<g id="n895_86"><circle cx="895.4" cy="1753.2"/></g>
<g id="n895_87"><circle cx="895.4" cy="1773.5"/></g>
<g id="n895_88"><circle cx="895.4" cy="1793.8"/></g>
<g id="n962_75"><circle cx="962" cy="1530.3"/></g>
<g id="n962_76"><circle cx="962" cy="1550.5"/></g>
<g id="n962_77"><circle cx="962" cy="1570.8"/></g>
<g id="n962_78"><circle cx="962" cy="1591.1"/></g>
<g id="n962_79"><circle cx="962" cy="1611.3"/></g>
<g id="n962_80"><circle cx="962" cy="1631.6"/></g>
<g id="n862_77"><circle cx="862" cy="1570.8"/></g>
<g id="n862_78"><circle cx="862" cy="1591.1"/></g>
<g id="n928_77"><circle cx="928.7" cy="1570.8"/></g>
<g id="n928_78"><circle cx="928.7" cy="1591.1"/></g>
<g id="n928_79"><circle cx="928.7" cy="1611.3"/></g>
<g id="n928_80"><circle cx="928.7" cy="1631.6"/></g>
<g id="n928_81"><circle cx="928.7" cy="1651.9"/></g>
<g id="n928_82"><circle cx="928.7" cy="1672.1"/></g>
<g id="n928_83"><circle cx="928.7" cy="1692.4"/></g>
<g id="n928_84"><circle cx="928.7" cy="1712.7"/></g>
<g id="n928_85"><circle cx="928.7" cy="1733"/></g>
<g id="n928_86"><circle cx="928.7" cy="1753.2"/></g>
<g id="n928_87"><circle cx="928.7" cy="1773.5"/></g>
<g id="n928_88"><circle cx="928.7" cy="1793.8"/></g>
<g id="n928_89"><circle cx="928.7" cy="1814"/></g>
<g id="n928_90"><circle cx="928.7" cy="1834.3"/></g>
<g id="n962_87"><circle cx="962" cy="1773.5"/></g>
<g id="n962_88"><circle cx="962" cy="1793.8"/></g>
<g id="n962_89"><circle cx="962" cy="1814"/></g>
<g id="n962_90"><circle cx="962" cy="1834.3"/></g>
<g id="n962_91"><circle cx="962" cy="1854.6"/></g>
<g id="n962_92"><circle cx="962" cy="1874.8"/></g>
<g id="n962_93"><circle cx="962" cy="1895.1"/></g>
<g id="n962_94"><circle cx="962" cy="1915.4"/></g>
<g id="n962_95"><circle cx="962" cy="1935.7"/></g>
<g id="n962_96"><circle cx="962" cy="1955.9"/></g>
<g id="n962_97"><circle cx="962" cy="1976.2"/></g>
<g id="n962_98"><circle cx="962" cy="1996.5"/></g>
<g id="n928_95"><circle cx="928.7" cy="1935.7"/></g>
<g id="n928_96"><circle cx="928.7" cy="1955.9"/></g>
<g id="n995_95"><circle cx="995.4" cy="1935.7"/></g>
<g id="n995_96"><circle cx="995.4" cy="1955.9"/></g>
<g id="n995_97"><circle cx="995.4" cy="1976.2"/></g>
<g id="n995_98"><circle cx="995.4" cy="1996.5"/></g>
<g id="n928_97"><circle cx="928.7" cy="1976.2"/></g>
<g id="n928_98"><circle cx="928.7" cy="1996.5"/></g>
<g id="n1003_57"><circle cx="1003.2" cy="1165.4"/></g>
<g id="n1006_58"><circle cx="1006" cy="1185.7"/></g>
<g id="n1006_59"><circle cx="1006" cy="1205.9"/></g>
<g id="n1006_60"><circle cx="1006" cy="1226.2"/></g>
<g id="n1006_61"><circle cx="1006" cy="1246.5"/></g>
<g id="n1006_62"><circle cx="1006" cy="1266.7"/></g>
<g id="n1039_59"><circle cx="1039.4" cy="1205.9"/></g>
<g id="n1039_60"><circle cx="1039.4" cy="1226.2"/></g>
<g id="n1039_61"><circle cx="1039.4" cy="1246.5"/></g>
<g id="n1039_62"><circle cx="1039.4" cy="1266.7"/></g>
<g id="n1072_61"><circle cx="1072.7" cy="1246.5"/></g>
<g id="n1072_62"><circle cx="1072.7" cy="1266.7"/></g>
<g id="n1028_63"><circle cx="1028.7" cy="1287"/></g>
<g id="n1028_64"><circle cx="1028.7" cy="1307.3"/></g>
<g id="n1028_65"><circle cx="1028.7" cy="1327.6"/></g>
<g id="n1028_66"><circle cx="1028.7" cy="1347.8"/></g>
<g id="n1028_67"><circle cx="1028.7" cy="1368.1"/></g>
<g id="n1028_68"><circle cx="1028.7" cy="1388.4"/></g>
<g id="n1028_69"><circle cx="1028.7" cy="1408.6"/></g>
<g id="n1028_70"><circle cx="1028.7" cy="1428.9"/></g>
<g id="n1062_63"><circle cx="1062" cy="1287"/></g>
<g id="n1062_64"><circle cx="1062" cy="1307.3"/></g>
<g id="n1062_65"><circle cx="1062" cy="1327.6"/></g>
<g id="n1062_66"><circle cx="1062" cy="1347.8"/></g>
<g id="n1095_63"><circle cx="1095.4" cy="1287"/></g>
<g id="n1095_64"><circle cx="1095.4" cy="1307.3"/></g>
<g id="n1124_65"><circle cx="1124.8" cy="1327.6"/></g>
<g id="n1140_66"><circle cx="1140.8" cy="1347.8"/></g>
<g id="n995_65"><circle cx="995.4" cy="1327.6"/></g>
<g id="n995_66"><circle cx="995.4" cy="1347.8"/></g>
<g id="n995_67"><circle cx="995.4" cy="1368.1"/></g>
<g id="n995_68"><circle cx="995.4" cy="1388.4"/></g>
<g id="n995_69"><circle cx="995.4" cy="1408.6"/></g>
<g id="n995_70"><circle cx="995.4" cy="1428.9"/></g>
<g id="n995_71"><circle cx="995.4" cy="1449.2"/></g>
<g id="n995_72"><circle cx="995.4" cy="1469.4"/></g>
<g id="n995_73"><circle cx="995.4" cy="1489.7"/></g>
<g id="n995_74"><circle cx="995.4" cy="1510"/></g>
<g id="n995_75"><circle cx="995.4" cy="1530.3"/></g>
<g id="n995_76"><circle cx="995.4" cy="1550.5"/></g>
<g id="n1062_69"><circle cx="1062" cy="1408.6"/></g>
<g id="n1062_70"><circle cx="1062" cy="1428.9"/></g>
<g id="n1062_71"><circle cx="1062" cy="1449.2"/></g>
<g id="n1062_72"><circle cx="1062" cy="1469.4"/></g>
<g id="n1062_73"><circle cx="1062" cy="1489.7"/></g>
<g id="n1062_74"><circle cx="1062" cy="1510"/></g>
<g id="n1062_75"><circle cx="1062" cy="1530.3"/></g>
<g id="n1062_76"><circle cx="1062" cy="1550.5"/></g>
<g id="n1028_73"><circle cx="1028.7" cy="1489.7"/></g>
<g id="n1028_74"><circle cx="1028.7" cy="1510"/></g>
<g id="n1028_75"><circle cx="1028.7" cy="1530.3"/></g>
<g id="n1028_76"><circle cx="1028.7" cy="1550.5"/></g>
<g id="n1128_67"><circle cx="1128.7" cy="1368.1"/></g>
<g id="n1128_68"><circle cx="1128.7" cy="1388.4"/></g>
<g id="n1162_67"><circle cx="1162" cy="1368.1"/></g>
<g id="n1162_68"><circle cx="1162" cy="1388.4"/></g>
<g id="n1204_67"><circle cx="1204.6" cy="1368.1"/></g>
<g id="n1220_68"><circle cx="1220.6" cy="1388.4"/></g>
<g id="n1228_69"><circle cx="1228.7" cy="1408.6"/></g>
<g id="n1228_70"><circle cx="1228.7" cy="1428.9"/></g>
<g id="n1228_71"><circle cx="1228.7" cy="1449.2"/></g>
<g id="n1228_72"><circle cx="1228.7" cy="1469.4"/></g>
<g id="n1128_69"><circle cx="1128.7" cy="1408.6"/></g>
<g id="n1128_70"><circle cx="1128.7" cy="1428.9"/></g>
<g id="n1128_71"><circle cx="1128.7" cy="1449.2"/></g>
<g id="n1128_72"><circle cx="1128.7" cy="1469.4"/></g>
<g id="n1128_73"><circle cx="1128.7" cy="1489.7"/></g>
<g id="n1128_74"><circle cx="1128.7" cy="1510"/></g>
<g id="n1162_69"><circle cx="1162" cy="1408.6"/></g>
<g id="n1162_70"><circle cx="1162" cy="1428.9"/></g>
<g id="n1195_69"><circle cx="1195.4" cy="1408.6"/></g>
<g id="n1195_70"><circle cx="1195.4" cy="1428.9"/></g>
<g id="n1195_71"><circle cx="1195.4" cy="1449.2"/></g>
<g id="n1195_72"><circle cx="1195.4" cy="1469.4"/></g>
<g id="n1195_73"><circle cx="1195.4" cy="1489.7"/></g>
<g id="n1195_74"><circle cx="1195.4" cy="1510"/></g>
<g id="n1195_75"><circle cx="1195.4" cy="1530.3"/></g>
<g id="n1195_76"><circle cx="1195.4" cy="1550.5"/></g>
<g id="n1195_77"><circle cx="1195.4" cy="1570.8"/></g>
<g id="n1195_78"><circle cx="1195.4" cy="1591.1"/></g>
<g id="n1195_79"><circle cx="1195.4" cy="1611.3"/></g>
<g id="n1195_80"><circle cx="1195.4" cy="1631.6"/></g>
<g id="n1195_81"><circle cx="1195.4" cy="1651.9"/></g>
<g id="n1195_82"><circle cx="1195.4" cy="1672.1"/></g>
<g id="n1162_71"><circle cx="1162" cy="1449.2"/></g>
<g id="n1162_72"><circle cx="1162" cy="1469.4"/></g>
<g id="n1095_73"><circle cx="1095.4" cy="1489.7"/></g>
<g id="n1095_74"><circle cx="1095.4" cy="1510"/></g>
<g id="n1162_73"><circle cx="1162" cy="1489.7"/></g>
<g id="n1162_74"><circle cx="1162" cy="1510"/></g>
<g id="n1111_75"><circle cx="1111" cy="1530.3"/></g>
<g id="n1103_76"><circle cx="1103.2" cy="1550.5"/></g>
<g id="n1079_77"><circle cx="1079.4" cy="1570.8"/></g>
<g id="n1070_78"><circle cx="1070.2" cy="1591.1"/></g>
<g id="n1020_79"><circle cx="1020.6" cy="1611.3"/></g>
<g id="n1011_80"><circle cx="1011.3" cy="1631.6"/></g>
<g id="n995_81"><circle cx="995.4" cy="1651.9"/></g>
<g id="n995_82"><circle cx="995.4" cy="1672.1"/></g>
<g id="n995_83"><circle cx="995.4" cy="1692.4"/></g>
<g id="n995_84"><circle cx="995.4" cy="1712.7"/></g>
<g id="n995_85"><circle cx="995.4" cy="1733"/></g>
<g id="n995_86"><circle cx="995.4" cy="1753.2"/></g>
<g id="n995_87"><circle cx="995.4" cy="1773.5"/></g>
<g id="n995_88"><circle cx="995.4" cy="1793.8"/></g>
<g id="n995_89"><circle cx="995.4" cy="1814"/></g>
<g id="n995_90"><circle cx="995.4" cy="1834.3"/></g>
<g id="n995_91"><circle cx="995.4" cy="1854.6"/></g>
<g id="n995_92"><circle cx="995.4" cy="1874.8"/></g>
<g id="n962_83"><circle cx="962" cy="1692.4"/></g>
<g id="n962_84"><circle cx="962" cy="1712.7"/></g>
<g id="n962_85"><circle cx="962" cy="1733"/></g>
<g id="n962_86"><circle cx="962" cy="1753.2"/></g>
<g id="n1062_79"><circle cx="1062" cy="1611.3"/></g>
<g id="n1062_80"><circle cx="1062" cy="1631.6"/></g>
<g id="n1062_81"><circle cx="1062" cy="1651.9"/></g>
<g id="n1062_82"><circle cx="1062" cy="1672.1"/></g>
<g id="n1028_81"><circle cx="1028.7" cy="1651.9"/></g>
<g id="n1028_82"><circle cx="1028.7" cy="1672.1"/></g>
<g id="n1028_83"><circle cx="1028.7" cy="1692.4"/></g>
<g id="n1028_84"><circle cx="1028.7" cy="1712.7"/></g>
<g id="n1028_85"><circle cx="1028.7" cy="1733"/></g>
<g id="n1028_86"><circle cx="1028.7" cy="1753.2"/></g>
<g id="n1095_81"><circle cx="1095.4" cy="1651.9"/></g>
<g id="n1095_82"><circle cx="1095.4" cy="1672.1"/></g>
<g id="n1095_79"><circle cx="1095.4" cy="1611.3"/></g>
<g id="n1095_80"><circle cx="1095.4" cy="1631.6"/></g>
<g id="n1128_81"><circle cx="1128.7" cy="1651.9"/></g>
<g id="n1128_82"><circle cx="1128.7" cy="1672.1"/></g>
<g id="n1228_75"><circle cx="1228.7" cy="1530.3"/></g>
<g id="n1228_76"><circle cx="1228.7" cy="1550.5"/></g>
<g id="n1228_77"><circle cx="1228.7" cy="1570.8"/></g>
<g id="n1228_78"><circle cx="1228.7" cy="1591.1"/></g>
<g id="n1228_79"><circle cx="1228.7" cy="1611.3"/></g>
<g id="n1228_80"><circle cx="1228.7" cy="1631.6"/></g>
<g id="n1262_71"><circle cx="1262" cy="1449.2"/></g>
<g id="n1262_72"><circle cx="1262" cy="1469.4"/></g>
<g id="n1262_73"><circle cx="1262" cy="1489.7"/></g>
<g id="n1262_74"><circle cx="1262" cy="1510"/></g>
<g id="n1262_75"><circle cx="1262" cy="1530.3"/></g>
<g id="n1262_76"><circle cx="1262" cy="1550.5"/></g>
<g id="n1262_77"><circle cx="1262" cy="1570.8"/></g>
<g id="n1262_78"><circle cx="1262" cy="1591.1"/></g>
<g id="n1295_77"><circle cx="1295.4" cy="1570.8"/></g>
<g id="n1295_78"><circle cx="1295.4" cy="1591.1"/></g>
<g id="n1295_79"><circle cx="1295.4" cy="1611.3"/></g>
<g id="n1295_80"><circle cx="1295.4" cy="1631.6"/></g>
<g id="n1262_79"><circle cx="1262" cy="1611.3"/></g>
<g id="n1262_80"><circle cx="1262" cy="1631.6"/></g>
<g id="n1262_81"><circle cx="1262" cy="1651.9"/></g>
<g id="n1262_82"><circle cx="1262" cy="1672.1"/></g>
<g id="n1246_83"><circle cx="1246.1" cy="1692.4"/></g>
<g id="n1246_84"><circle cx="1246.1" cy="1712.7"/></g>
<g id="n1246_85"><circle cx="1246.1" cy="1733"/></g>
<g id="n1246_86"><circle cx="1246.1" cy="1753.2"/></g>
<g id="n1246_87"><circle cx="1246.1" cy="1773.5"/></g>
<g id="n1246_88"><circle cx="1246.1" cy="1793.8"/></g>
<g id="n1279_83"><circle cx="1279.4" cy="1692.4"/></g>
<g id="n1279_84"><circle cx="1279.4" cy="1712.7"/></g>
<g id="n1146_77"><circle cx="1146.1" cy="1570.8"/></g>
<g id="n1146_78"><circle cx="1146.1" cy="1591.1"/></g>
<g id="n1128_79"><circle cx="1128.7" cy="1611.3"/></g>
<g id="n1128_80"><circle cx="1128.7" cy="1631.6"/></g>
<g id="n1162_81"><circle cx="1162" cy="1651.9"/></g>
<g id="n1162_82"><circle cx="1162" cy="1672.1"/></g>
<g id="n1162_79"><circle cx="1162" cy="1611.3"/></g>
<g id="n1162_80"><circle cx="1162" cy="1631.6"/></g>
<g id="n784_53"><circle cx="784.7" cy="1084.3"/></g>
<g id="n668_54"><circle cx="668.7" cy="1104.6"/></g>
<g id="n611_55"><circle cx="611.7" cy="1124.9"/></g>
<g id="n562_56"><circle cx="562" cy="1145.1"/></g>
<g id="n536_57"><circle cx="536.7" cy="1165.4"/></g>
<g id="n524_58"><circle cx="524.7" cy="1185.7"/></g>
<g id="n518_59"><circle cx="518.3" cy="1205.9"/></g>
<g id="n518_60"><circle cx="518.3" cy="1226.2"/></g>
<g id="n651_55"><circle cx="651.3" cy="1124.9"/></g>
<g id="n651_56"><circle cx="651.3" cy="1145.1"/></g>
<g id="n651_57"><circle cx="651.3" cy="1165.4"/></g>
<g id="n651_58"><circle cx="651.3" cy="1185.7"/></g>
<g id="n651_59"><circle cx="651.3" cy="1205.9"/></g>
<g id="n651_60"><circle cx="651.3" cy="1226.2"/></g>
<g id="n651_61"><circle cx="651.3" cy="1246.5"/></g>
<g id="n651_62"><circle cx="651.3" cy="1266.7"/></g>
<g id="n651_63"><circle cx="651.3" cy="1287"/></g>
<g id="n651_64"><circle cx="651.3" cy="1307.3"/></g>
<g id="n651_65"><circle cx="651.3" cy="1327.6"/></g>
<g id="n651_66"><circle cx="651.3" cy="1347.8"/></g>
<g id="n684_55"><circle cx="684.7" cy="1124.9"/></g>
<g id="n684_56"><circle cx="684.7" cy="1145.1"/></g>
<g id="n684_57"><circle cx="684.7" cy="1165.4"/></g>
<g id="n684_58"><circle cx="684.7" cy="1185.7"/></g>
<g id="n684_59"><circle cx="684.7" cy="1205.9"/></g>
<g id="n684_60"><circle cx="684.7" cy="1226.2"/></g>
<g id="n684_61"><circle cx="684.7" cy="1246.5"/></g>
<g id="n684_62"><circle cx="684.7" cy="1266.7"/></g>
<g id="n684_63"><circle cx="684.7" cy="1287"/></g>
<g id="n684_64"><circle cx="684.7" cy="1307.3"/></g>
<g id="n578_57"><circle cx="578" cy="1165.4"/></g>
<g id="n564_58"><circle cx="564.7" cy="1185.7"/></g>
<g id="n551_59"><circle cx="551.3" cy="1205.9"/></g>
<g id="n551_60"><circle cx="551.3" cy="1226.2"/></g>
<g id="n618_57"><circle cx="618" cy="1165.4"/></g>
<g id="n618_58"><circle cx="618" cy="1185.7"/></g>
<g id="n618_59"><circle cx="618" cy="1205.9"/></g>
<g id="n618_60"><circle cx="618" cy="1226.2"/></g>
<g id="n584_59"><circle cx="584.7" cy="1205.9"/></g>
<g id="n584_60"><circle cx="584.7" cy="1226.2"/></g>
<g id="n584_61"><circle cx="584.7" cy="1246.5"/></g>
<g id="n584_62"><circle cx="584.7" cy="1266.7"/></g>
<g id="n584_63"><circle cx="584.7" cy="1287"/></g>
<g id="n584_64"><circle cx="584.7" cy="1307.3"/></g>
<g id="n584_65"><circle cx="584.7" cy="1327.6"/></g>
<g id="n584_66"><circle cx="584.7" cy="1347.8"/></g>
<g id="n551_63"><circle cx="551.3" cy="1287"/></g>
<g id="n551_64"><circle cx="551.3" cy="1307.3"/></g>
<g id="n618_63"><circle cx="618" cy="1287"/></g>
<g id="n618_64"><circle cx="618" cy="1307.3"/></g>
<g id="n551_65"><circle cx="551.3" cy="1327.6"/></g>
<g id="n551_66"><circle cx="551.3" cy="1347.8"/></g>
<g id="n551_67"><circle cx="551.3" cy="1368.1"/></g>
<g id="n551_68"><circle cx="551.3" cy="1388.4"/></g>
<g id="n551_69"><circle cx="551.3" cy="1408.6"/></g>
<g id="n551_70"><circle cx="551.3" cy="1428.9"/></g>
<g id="n551_71"><circle cx="551.3" cy="1449.2"/></g>
<g id="n551_72"><circle cx="551.3" cy="1469.4"/></g>
<g id="n518_67"><circle cx="518.3" cy="1368.1"/></g>
<g id="n518_68"><circle cx="518.3" cy="1388.4"/></g>
<g id="n518_69"><circle cx="518.3" cy="1408.6"/></g>
<g id="n518_70"><circle cx="518.3" cy="1428.9"/></g>
<g id="n618_65"><circle cx="618" cy="1327.6"/></g>
<g id="n618_66"><circle cx="618" cy="1347.8"/></g>
<g id="n618_67"><circle cx="618" cy="1368.1"/></g>
<g id="n618_68"><circle cx="618" cy="1388.4"/></g>
<g id="n684_65"><circle cx="684.7" cy="1327.6"/></g>
<g id="n684_66"><circle cx="684.7" cy="1347.8"/></g>
<g id="n584_67"><circle cx="584.7" cy="1368.1"/></g>
<g id="n584_68"><circle cx="584.7" cy="1388.4"/></g>
<g id="n584_69"><circle cx="584.7" cy="1408.6"/></g>
<g id="n584_70"><circle cx="584.7" cy="1428.9"/></g>
<g id="n584_71"><circle cx="584.7" cy="1449.2"/></g>
<g id="n584_72"><circle cx="584.7" cy="1469.4"/></g>
<g id="n651_67"><circle cx="651.3" cy="1368.1"/></g>
<g id="n651_68"><circle cx="651.3" cy="1388.4"/></g>
<g id="n651_69"><circle cx="651.3" cy="1408.6"/></g>
<g id="n651_70"><circle cx="651.3" cy="1428.9"/></g>
<g id="n684_67"><circle cx="684.7" cy="1368.1"/></g>
<g id="n684_68"><circle cx="684.7" cy="1388.4"/></g>
<g id="n696_69"><circle cx="696.7" cy="1408.6"/></g>
<g id="n702_70"><circle cx="702" cy="1428.9"/></g>
<g id="n708_71"><circle cx="708.7" cy="1449.2"/></g>
<g id="n708_72"><circle cx="708.7" cy="1469.4"/></g>
<g id="n642_71"><circle cx="642" cy="1449.2"/></g>
<g id="n642_72"><circle cx="642" cy="1469.4"/></g>
<g id="n642_73"><circle cx="642" cy="1489.7"/></g>
<g id="n642_74"><circle cx="642" cy="1510"/></g>
<g id="n642_75"><circle cx="642" cy="1530.3"/></g>
<g id="n642_76"><circle cx="642" cy="1550.5"/></g>
<g id="n675_71"><circle cx="675.3" cy="1449.2"/></g>
<g id="n675_72"><circle cx="675.3" cy="1469.4"/></g>
<g id="n679_73"><circle cx="679.3" cy="1489.7"/></g>
<g id="n683_74"><circle cx="683.3" cy="1510"/></g>
<g id="n683_75"><circle cx="683.3" cy="1530.3"/></g>
<g id="n683_76"><circle cx="683.3" cy="1550.5"/></g>
<g id="n526_73"><circle cx="526" cy="1489.7"/></g>
<g id="n526_74"><circle cx="526" cy="1510"/></g>
<g id="n526_75"><circle cx="526" cy="1530.3"/></g>
<g id="n526_76"><circle cx="526" cy="1550.5"/></g>
<g id="n559_73"><circle cx="559.3" cy="1489.7"/></g>
<g id="n559_74"><circle cx="559.3" cy="1510"/></g>
<g id="n592_73"><circle cx="592.7" cy="1489.7"/></g>
<g id="n592_74"><circle cx="592.7" cy="1510"/></g>
<g id="n491_75"><circle cx="491.3" cy="1530.3"/></g>
<g id="n458_76"><circle cx="458" cy="1550.5"/></g>
<g id="n458_77"><circle cx="458" cy="1570.8"/></g>
<g id="n458_78"><circle cx="458" cy="1591.1"/></g>
<g id="n418_77"><circle cx="418" cy="1570.8"/></g>
<g id="n418_78"><circle cx="418" cy="1591.1"/></g>
<g id="n416_79"><circle cx="416.7" cy="1611.3"/></g>
<g id="n416_80"><circle cx="416.7" cy="1631.6"/></g>
<g id="n416_81"><circle cx="416.7" cy="1651.9"/></g>
<g id="n416_82"><circle cx="416.7" cy="1672.1"/></g>
<g id="n450_79"><circle cx="450" cy="1611.3"/></g>
<g id="n450_80"><circle cx="450" cy="1631.6"/></g>
<g id="n450_81"><circle cx="450" cy="1651.9"/></g>
<g id="n450_82"><circle cx="450" cy="1672.1"/></g>
<g id="n447_83"><circle cx="447.3" cy="1692.4"/></g>
<g id="n447_84"><circle cx="447.3" cy="1712.7"/></g>
<g id="n483_79"><circle cx="483.3" cy="1611.3"/></g>
<g id="n483_80"><circle cx="483.3" cy="1631.6"/></g>
<g id="n483_81"><circle cx="483.3" cy="1651.9"/></g>
<g id="n483_82"><circle cx="483.3" cy="1672.1"/></g>
<g id="n480_83"><circle cx="480.7" cy="1692.4"/></g>
<g id="n480_84"><circle cx="480.7" cy="1712.7"/></g>
<g id="n479_85"><circle cx="479.3" cy="1733"/></g>
<g id="n479_86"><circle cx="479.3" cy="1753.2"/></g>
<g id="n479_87"><circle cx="479.3" cy="1773.5"/></g>
<g id="n479_88"><circle cx="479.3" cy="1793.8"/></g>
<g id="n514_83"><circle cx="514" cy="1692.4"/></g>
<g id="n514_84"><circle cx="514" cy="1712.7"/></g>
<g id="n512_85"><circle cx="512.7" cy="1733"/></g>
<g id="n512_86"><circle cx="512.7" cy="1753.2"/></g>
<g id="n546_85"><circle cx="546" cy="1733"/></g>
<g id="n546_86"><circle cx="546" cy="1753.2"/></g>
<g id="n546_87"><circle cx="546" cy="1773.5"/></g>
<g id="n546_88"><circle cx="546" cy="1793.8"/></g>
<g id="n546_89"><circle cx="546" cy="1814"/></g>
<g id="n546_90"><circle cx="546" cy="1834.3"/></g>
<g id="n546_91"><circle cx="546" cy="1854.6"/></g>
<g id="n546_92"><circle cx="546" cy="1874.8"/></g>
<g id="n446_87"><circle cx="446" cy="1773.5"/></g>
<g id="n446_88"><circle cx="446" cy="1793.8"/></g>
<g id="n446_89"><circle cx="446" cy="1814"/></g>
<g id="n446_90"><circle cx="446" cy="1834.3"/></g>
<g id="n512_87"><circle cx="512.7" cy="1773.5"/></g>
<g id="n512_88"><circle cx="512.7" cy="1793.8"/></g>
<g id="n512_89"><circle cx="512.7" cy="1814"/></g>
<g id="n512_90"><circle cx="512.7" cy="1834.3"/></g>
<g id="n512_91"><circle cx="512.7" cy="1854.6"/></g>
<g id="n512_92"><circle cx="512.7" cy="1874.8"/></g>
<g id="n512_93"><circle cx="512.7" cy="1895.1"/></g>
<g id="n512_94"><circle cx="512.7" cy="1915.4"/></g>
<g id="n479_89"><circle cx="479.3" cy="1814"/></g>
<g id="n479_90"><circle cx="479.3" cy="1834.3"/></g>
<g id="n479_91"><circle cx="479.3" cy="1854.6"/></g>
<g id="n479_92"><circle cx="479.3" cy="1874.8"/></g>
<g id="n446_91"><circle cx="446" cy="1854.6"/></g>
<g id="n446_92"><circle cx="446" cy="1874.8"/></g>
<g id="n446_93"><circle cx="446" cy="1895.1"/></g>
<g id="n446_94"><circle cx="446" cy="1915.4"/></g>
<g id="n446_95"><circle cx="446" cy="1935.7"/></g>
<g id="n446_96"><circle cx="446" cy="1955.9"/></g>
<g id="n446_97"><circle cx="446" cy="1976.2"/></g>
<g id="n446_98"><circle cx="446" cy="1996.5"/></g>
<g id="n446_99"><circle cx="446" cy="2016.7"/></g>
<g id="n446_100"><circle cx="446" cy="2037"/></g>
<g id="n412_93"><circle cx="412.7" cy="1895.1"/></g>
<g id="n412_94"><circle cx="412.7" cy="1915.4"/></g>
<g id="n412_95"><circle cx="412.7" cy="1935.7"/></g>
<g id="n412_96"><circle cx="412.7" cy="1955.9"/></g>
<g id="n412_97"><circle cx="412.7" cy="1976.2"/></g>
<g id="n412_98"><circle cx="412.7" cy="1996.5"/></g>
<g id="n479_93"><circle cx="479.3" cy="1895.1"/></g>
<g id="n479_94"><circle cx="479.3" cy="1915.4"/></g>
<g id="n479_97"><circle cx="479.3" cy="1976.2"/></g>
<g id="n479_98"><circle cx="479.3" cy="1996.5"/></g>
<g id="n479_99"><circle cx="479.3" cy="2016.7"/></g>
<g id="n479_100"><circle cx="479.3" cy="2037"/></g>
<g id="n479_101"><circle cx="479.3" cy="2057.3"/></g>
<g id="n479_102"><circle cx="479.3" cy="2077.5"/></g>
<g id="n479_103"><circle cx="479.3" cy="2097.8"/></g>
<g id="n479_104"><circle cx="479.3" cy="2118.1"/></g>
<g id="n479_105"><circle cx="479.3" cy="2138.4"/></g>
<g id="n412_99"><circle cx="412.7" cy="2016.7"/></g>
<g id="n412_100"><circle cx="412.7" cy="2037"/></g>
<g id="n512_99"><circle cx="512.7" cy="2016.7"/></g>
<g id="n512_100"><circle cx="512.7" cy="2037"/></g>
<g id="n612_77"><circle cx="612.7" cy="1570.8"/></g>
<g id="n612_78"><circle cx="612.7" cy="1591.1"/></g>
<g id="n612_79"><circle cx="612.7" cy="1611.3"/></g>
<g id="n612_80"><circle cx="612.7" cy="1631.6"/></g>
<g id="n612_81"><circle cx="612.7" cy="1651.9"/></g>
<g id="n612_82"><circle cx="612.7" cy="1672.1"/></g>
<g id="n612_83"><circle cx="612.7" cy="1692.4"/></g>
<g id="n612_84"><circle cx="612.7" cy="1712.7"/></g>
<g id="n646_77"><circle cx="646" cy="1570.8"/></g>
<g id="n646_78"><circle cx="646" cy="1591.1"/></g>
<g id="n650_79"><circle cx="650" cy="1611.3"/></g>
<g id="n654_80"><circle cx="654" cy="1631.6"/></g>
<g id="n679_81"><circle cx="679.3" cy="1651.9"/></g>
<g id="n679_82"><circle cx="679.3" cy="1672.1"/></g>
<g id="n579_79"><circle cx="579.3" cy="1611.3"/></g>
<g id="n579_80"><circle cx="579.3" cy="1631.6"/></g>
<g id="n579_81"><circle cx="579.3" cy="1651.9"/></g>
<g id="n579_82"><circle cx="579.3" cy="1672.1"/></g>
<g id="n579_83"><circle cx="579.3" cy="1692.4"/></g>
<g id="n579_84"><circle cx="579.3" cy="1712.7"/></g>
<g id="n579_85"><circle cx="579.3" cy="1733"/></g>
<g id="n579_86"><circle cx="579.3" cy="1753.2"/></g>
<g id="n646_81"><circle cx="646" cy="1651.9"/></g>
<g id="n646_82"><circle cx="646" cy="1672.1"/></g>
<g id="n612_85"><circle cx="612.7" cy="1733"/></g>
<g id="n612_86"><circle cx="612.7" cy="1753.2"/></g>
<g id="n612_87"><circle cx="612.7" cy="1773.5"/></g>
<g id="n612_88"><circle cx="612.7" cy="1793.8"/></g>
<g id="n612_89"><circle cx="612.7" cy="1814"/></g>
<g id="n612_90"><circle cx="612.7" cy="1834.3"/></g>
<g id="n612_91"><circle cx="612.7" cy="1854.6"/></g>
<g id="n612_92"><circle cx="612.7" cy="1874.8"/></g>
<g id="n612_93"><circle cx="612.7" cy="1895.1"/></g>
<g id="n612_94"><circle cx="612.7" cy="1915.4"/></g>
<g id="n612_95"><circle cx="612.7" cy="1935.7"/></g>
<g id="n612_96"><circle cx="612.7" cy="1955.9"/></g>
<g id="n579_87"><circle cx="579.3" cy="1773.5"/></g>
<g id="n579_88"><circle cx="579.3" cy="1793.8"/></g>
<g id="n579_89"><circle cx="579.3" cy="1814"/></g>
<g id="n579_90"><circle cx="579.3" cy="1834.3"/></g>
<g id="n579_91"><circle cx="579.3" cy="1854.6"/></g>
<g id="n579_92"><circle cx="579.3" cy="1874.8"/></g>
<g id="n579_93"><circle cx="579.3" cy="1895.1"/></g>
<g id="n579_94"><circle cx="579.3" cy="1915.4"/></g>
<g id="n579_95"><circle cx="579.3" cy="1935.7"/></g>
<g id="n579_96"><circle cx="579.3" cy="1955.9"/></g>
<g id="n563_97"><circle cx="563.3" cy="1976.2"/></g>
<g id="n563_98"><circle cx="563.3" cy="1996.5"/></g>
<g id="n563_99"><circle cx="563.3" cy="2016.7"/></g>
<g id="n563_100"><circle cx="563.3" cy="2037"/></g>
<g id="n596_97"><circle cx="596.7" cy="1976.2"/></g>
<g id="n596_98"><circle cx="596.7" cy="1996.5"/></g>
<g id="n731_75"><circle cx="731.3" cy="1530.3"/></g>
<g id="n739_76"><circle cx="739.3" cy="1550.5"/></g>
<g id="n746_77"><circle cx="746" cy="1570.8"/></g>
<g id="n746_78"><circle cx="746" cy="1591.1"/></g>
<g id="n746_79"><circle cx="746" cy="1611.3"/></g>
<g id="n746_80"><circle cx="746" cy="1631.6"/></g>
<g id="n679_77"><circle cx="679.3" cy="1570.8"/></g>
<g id="n679_78"><circle cx="679.3" cy="1591.1"/></g>
<g id="n694_79"><circle cx="694" cy="1611.3"/></g>
<g id="n703_80"><circle cx="703.3" cy="1631.6"/></g>
<g id="n712_81"><circle cx="712.7" cy="1651.9"/></g>
<g id="n712_82"><circle cx="712.7" cy="1672.1"/></g>
<g id="n712_77"><circle cx="712.7" cy="1570.8"/></g>
<g id="n712_78"><circle cx="712.7" cy="1591.1"/></g>
<g id="n828_73"><circle cx="828.3" cy="1489.7"/></g>
<g id="n828_74"><circle cx="828.3" cy="1510"/></g>
<g id="n828_75"><circle cx="828.3" cy="1530.3"/></g>
<g id="n828_76"><circle cx="828.3" cy="1550.5"/></g>
<g id="n828_77"><circle cx="828.3" cy="1570.8"/></g>
<g id="n828_78"><circle cx="828.3" cy="1591.1"/></g>
<g id="n795_77"><circle cx="795" cy="1570.8"/></g>
<g id="n795_78"><circle cx="795" cy="1591.1"/></g>
<g id="n779_79"><circle cx="779.3" cy="1611.3"/></g>
<g id="n779_80"><circle cx="779.3" cy="1631.6"/></g>
<g id="n779_81"><circle cx="779.3" cy="1651.9"/></g>
<g id="n779_82"><circle cx="779.3" cy="1672.1"/></g>
<g id="n779_83"><circle cx="779.3" cy="1692.4"/></g>
<g id="n779_84"><circle cx="779.3" cy="1712.7"/></g>
<g id="n779_85"><circle cx="779.3" cy="1733"/></g>
<g id="n779_86"><circle cx="779.3" cy="1753.2"/></g>
<g id="n779_87"><circle cx="779.3" cy="1773.5"/></g>
<g id="n779_88"><circle cx="779.3" cy="1793.8"/></g>
<g id="n812_79"><circle cx="812.7" cy="1611.3"/></g>
<g id="n812_80"><circle cx="812.7" cy="1631.6"/></g>
<g id="n846_79"><circle cx="846" cy="1611.3"/></g>
<g id="n846_80"><circle cx="846" cy="1631.6"/></g>
<g id="n812_83"><circle cx="812.7" cy="1692.4"/></g>
<g id="n812_84"><circle cx="812.7" cy="1712.7"/></g>
<g id="n812_85"><circle cx="812.7" cy="1733"/></g>
<g id="n812_86"><circle cx="812.7" cy="1753.2"/></g>
<g id="n812_87"><circle cx="812.7" cy="1773.5"/></g>
<g id="n812_88"><circle cx="812.7" cy="1793.8"/></g>
<g id="n846_85"><circle cx="846" cy="1733"/></g>
<g id="n846_86"><circle cx="846" cy="1753.2"/></g>
<g id="n746_85"><circle cx="746" cy="1733"/></g>
<g id="n746_86"><circle cx="746" cy="1753.2"/></g>
<g id="n746_87"><circle cx="746" cy="1773.5"/></g>
<g id="n746_88"><circle cx="746" cy="1793.8"/></g>
<g id="n746_89"><circle cx="746" cy="1814"/></g>
<g id="n746_90"><circle cx="746" cy="1834.3"/></g>
<g id="n746_91"><circle cx="746" cy="1854.6"/></g>
<g id="n746_92"><circle cx="746" cy="1874.8"/></g>
<g id="n746_93"><circle cx="746" cy="1895.1"/></g>
<g id="n746_94"><circle cx="746" cy="1915.4"/></g>
<g id="n779_89"><circle cx="779.3" cy="1814"/></g>
<g id="n795_90"><circle cx="795.3" cy="1834.3"/></g>
<g id="n712_91"><circle cx="712.7" cy="1854.6"/></g>
<g id="n696_92"><circle cx="696.7" cy="1874.8"/></g>
<g id="n646_93"><circle cx="646" cy="1895.1"/></g>
<g id="n646_94"><circle cx="646" cy="1915.4"/></g>
<g id="n646_95"><circle cx="646" cy="1935.7"/></g>
<g id="n646_96"><circle cx="646" cy="1955.9"/></g>
<g id="n679_93"><circle cx="679.3" cy="1895.1"/></g>
<g id="n679_94"><circle cx="679.3" cy="1915.4"/></g>
<g id="n712_93"><circle cx="712.7" cy="1895.1"/></g>
<g id="n712_94"><circle cx="712.7" cy="1915.4"/></g>
<g id="n779_91"><circle cx="779.3" cy="1854.6"/></g>
<g id="n779_92"><circle cx="779.3" cy="1874.8"/></g>
<g id="n779_93"><circle cx="779.3" cy="1895.1"/></g>
<g id="n779_94"><circle cx="779.3" cy="1915.4"/></g>
<g id="n779_95"><circle cx="779.3" cy="1935.7"/></g>
<g id="n779_96"><circle cx="779.3" cy="1955.9"/></g>
<g id="n779_97"><circle cx="779.3" cy="1976.2"/></g>
<g id="n779_98"><circle cx="779.3" cy="1996.5"/></g>
<g id="n812_91"><circle cx="812.7" cy="1854.6"/></g>
<g id="n812_92"><circle cx="812.7" cy="1874.8"/></g>
<g id="n846_91"><circle cx="846" cy="1854.6"/></g>
<g id="n846_92"><circle cx="846" cy="1874.8"/></g>
<g id="n812_93"><circle cx="812.7" cy="1895.1"/></g>
<g id="n812_94"><circle cx="812.7" cy="1915.4"/></g>
<g id="n762_99"><circle cx="762" cy="2016.7"/></g>
<g id="n762_100"><circle cx="762" cy="2037"/></g>
<g id="n762_101"><circle cx="762" cy="2057.3"/></g>
<g id="n762_102"><circle cx="762" cy="2077.5"/></g>
<g id="n762_103"><circle cx="762" cy="2097.8"/></g>
<g id="n762_104"><circle cx="762" cy="2118.1"/></g>
<g id="n795_99"><circle cx="795.3" cy="2016.7"/></g>
<g id="n795_100"><circle cx="795.3" cy="2037"/></g>
<g id="n795_101"><circle cx="795.3" cy="2057.3"/></g>
<g id="n795_102"><circle cx="795.3" cy="2077.5"/></g>
<g id="n795_103"><circle cx="795.3" cy="2097.8"/></g>
<g id="n795_104"><circle cx="795.3" cy="2118.1"/></g>
<g id="n795_105"><circle cx="795.3" cy="2138.4"/></g>
<g id="n795_106"><circle cx="795.3" cy="2158.6"/></g>
<g id="n728_101"><circle cx="728.7" cy="2057.3"/></g>
<g id="n728_102"><circle cx="728.7" cy="2077.5"/></g>
<g id="n728_103"><circle cx="728.7" cy="2097.8"/></g>
<g id="n728_104"><circle cx="728.7" cy="2118.1"/></g>
<g id="n728_105"><circle cx="728.7" cy="2138.4"/></g>
<g id="n728_106"><circle cx="728.7" cy="2158.6"/></g>
<g id="n728_107"><circle cx="728.7" cy="2178.9"/></g>
<g id="n728_108"><circle cx="728.7" cy="2199.2"/></g>
<g id="n348_61"><circle cx="348.7" cy="1246.5"/></g>
<g id="n332_62"><circle cx="332.7" cy="1266.7"/></g>
<g id="n324_63"><circle cx="324.7" cy="1287"/></g>
<g id="n130_64"><circle cx="130" cy="1307.3"/></g>
<g id="n80_65"><circle cx="80.7" cy="1327.6"/></g>
<g id="n80_66"><circle cx="80.7" cy="1347.8"/></g>
<g id="n80_67"><circle cx="80.7" cy="1368.1"/></g>
<g id="n80_68"><circle cx="80.7" cy="1388.4"/></g>
<g id="n80_69"><circle cx="80.7" cy="1408.6"/></g>
<g id="n80_70"><circle cx="80.7" cy="1428.9"/></g>
<g id="n114_65"><circle cx="114" cy="1327.6"/></g>
<g id="n114_66"><circle cx="114" cy="1347.8"/></g>
<g id="n147_65"><circle cx="147.3" cy="1327.6"/></g>
<g id="n147_66"><circle cx="147.3" cy="1347.8"/></g>
<g id="n147_67"><circle cx="147.3" cy="1368.1"/></g>
<g id="n147_68"><circle cx="147.3" cy="1388.4"/></g>
<g id="n147_69"><circle cx="147.3" cy="1408.6"/></g>
<g id="n147_70"><circle cx="147.3" cy="1428.9"/></g>
<g id="n47_67"><circle cx="47.3" cy="1368.1"/></g>
<g id="n47_68"><circle cx="47.3" cy="1388.4"/></g>
<g id="n47_69"><circle cx="47.3" cy="1408.6"/></g>
<g id="n47_70"><circle cx="47.3" cy="1428.9"/></g>
<g id="n47_71"><circle cx="47.3" cy="1449.2"/></g>
<g id="n47_72"><circle cx="47.3" cy="1469.4"/></g>
<g id="n47_73"><circle cx="47.3" cy="1489.7"/></g>
<g id="n47_74"><circle cx="47.3" cy="1510"/></g>
<g id="n47_75"><circle cx="47.3" cy="1530.3"/></g>
<g id="n47_76"><circle cx="47.3" cy="1550.5"/></g>
<g id="n47_77"><circle cx="47.3" cy="1570.8"/></g>
<g id="n47_78"><circle cx="47.3" cy="1591.1"/></g>
<g id="n14_71"><circle cx="14" cy="1449.2"/></g>
<g id="n14_72"><circle cx="14" cy="1469.4"/></g>
<g id="n114_71"><circle cx="114" cy="1449.2"/></g>
<g id="n114_72"><circle cx="114" cy="1469.4"/></g>
<g id="n114_73"><circle cx="114" cy="1489.7"/></g>
<g id="n114_74"><circle cx="114" cy="1510"/></g>
<g id="n114_75"><circle cx="114" cy="1530.3"/></g>
<g id="n114_76"><circle cx="114" cy="1550.5"/></g>
<g id="n114_77"><circle cx="114" cy="1570.8"/></g>
<g id="n114_78"><circle cx="114" cy="1591.1"/></g>
<g id="n147_71"><circle cx="147.3" cy="1449.2"/></g>
<g id="n147_72"><circle cx="147.3" cy="1469.4"/></g>
<g id="n147_73"><circle cx="147.3" cy="1489.7"/></g>
<g id="n147_74"><circle cx="147.3" cy="1510"/></g>
<g id="n180_71"><circle cx="180.7" cy="1449.2"/></g>
<g id="n180_72"><circle cx="180.7" cy="1469.4"/></g>
<g id="n180_73"><circle cx="180.7" cy="1489.7"/></g>
<g id="n180_74"><circle cx="180.7" cy="1510"/></g>
<g id="n180_75"><circle cx="180.7" cy="1530.3"/></g>
<g id="n180_76"><circle cx="180.7" cy="1550.5"/></g>
<g id="n180_77"><circle cx="180.7" cy="1570.8"/></g>
<g id="n180_78"><circle cx="180.7" cy="1591.1"/></g>
<g id="n80_77"><circle cx="80.7" cy="1570.8"/></g>
<g id="n80_78"><circle cx="80.7" cy="1591.1"/></g>
<g id="n259_73"><circle cx="259.3" cy="1489.7"/></g>
<g id="n275_74"><circle cx="275.3" cy="1510"/></g>
<g id="n275_75"><circle cx="275.3" cy="1530.3"/></g>
<g id="n275_76"><circle cx="275.3" cy="1550.5"/></g>
<g id="n147_77"><circle cx="147.3" cy="1570.8"/></g>
<g id="n147_78"><circle cx="147.3" cy="1591.1"/></g>
<g id="n163_79"><circle cx="163.3" cy="1611.3"/></g>
<g id="n163_80"><circle cx="163.3" cy="1631.6"/></g>
<g id="n163_81"><circle cx="163.3" cy="1651.9"/></g>
<g id="n163_82"><circle cx="163.3" cy="1672.1"/></g>
<g id="n163_83"><circle cx="163.3" cy="1692.4"/></g>
<g id="n163_84"><circle cx="163.3" cy="1712.7"/></g>
<g id="n163_85"><circle cx="163.3" cy="1733"/></g>
<g id="n163_86"><circle cx="163.3" cy="1753.2"/></g>
<g id="n163_87"><circle cx="163.3" cy="1773.5"/></g>
<g id="n163_88"><circle cx="163.3" cy="1793.8"/></g>
<g id="n163_89"><circle cx="163.3" cy="1814"/></g>
<g id="n163_90"><circle cx="163.3" cy="1834.3"/></g>
<g id="n163_91"><circle cx="163.3" cy="1854.6"/></g>
<g id="n163_92"><circle cx="163.3" cy="1874.8"/></g>
<g id="n196_79"><circle cx="196.7" cy="1611.3"/></g>
<g id="n196_80"><circle cx="196.7" cy="1631.6"/></g>
<g id="n196_81"><circle cx="196.7" cy="1651.9"/></g>
<g id="n196_82"><circle cx="196.7" cy="1672.1"/></g>
<g id="n196_83"><circle cx="196.7" cy="1692.4"/></g>
<g id="n196_84"><circle cx="196.7" cy="1712.7"/></g>
<g id="n196_85"><circle cx="196.7" cy="1733"/></g>
<g id="n196_86"><circle cx="196.7" cy="1753.2"/></g>
<g id="n130_83"><circle cx="130" cy="1692.4"/></g>
<g id="n130_84"><circle cx="130" cy="1712.7"/></g>
<g id="n72_79"><circle cx="72.7" cy="1611.3"/></g>
<g id="n68_80"><circle cx="68.7" cy="1631.6"/></g>
<g id="n114_79"><circle cx="114" cy="1611.3"/></g>
<g id="n102_80"><circle cx="102" cy="1631.6"/></g>
<g id="n55_81"><circle cx="55.3" cy="1651.9"/></g>
<g id="n38_82"><circle cx="38" cy="1672.1"/></g>
<g id="n28_83"><circle cx="28.7" cy="1692.4"/></g>
<g id="n23_84"><circle cx="23.3" cy="1712.7"/></g>
<g id="n15_85"><circle cx="15.3" cy="1733"/></g>
<g id="n11_86"><circle cx="11.3" cy="1753.2"/></g>
<g id="n10_87"><circle cx="10" cy="1773.5"/></g>
<g id="n10_88"><circle cx="10" cy="1793.8"/></g>
<g id="n99_81"><circle cx="99.3" cy="1651.9"/></g>
<g id="n96_82"><circle cx="96.7" cy="1672.1"/></g>
<g id="n96_83"><circle cx="96.7" cy="1692.4"/></g>
<g id="n96_84"><circle cx="96.7" cy="1712.7"/></g>
<g id="n63_83"><circle cx="63.3" cy="1692.4"/></g>
<g id="n63_84"><circle cx="63.3" cy="1712.7"/></g>
<g id="n63_85"><circle cx="63.3" cy="1733"/></g>
<g id="n63_86"><circle cx="63.3" cy="1753.2"/></g>
<g id="n98_85"><circle cx="98" cy="1733"/></g>
<g id="n102_86"><circle cx="102" cy="1753.2"/></g>
<g id="n110_87"><circle cx="110" cy="1773.5"/></g>
<g id="n110_88"><circle cx="110" cy="1793.8"/></g>
<g id="n94_89"><circle cx="94" cy="1814"/></g>
<g id="n94_90"><circle cx="94" cy="1834.3"/></g>
<g id="n127_89"><circle cx="127.3" cy="1814"/></g>
<g id="n127_90"><circle cx="127.3" cy="1834.3"/></g>
<g id="n127_91"><circle cx="127.3" cy="1854.6"/></g>
<g id="n127_92"><circle cx="127.3" cy="1874.8"/></g>
<g id="n43_87"><circle cx="43.3" cy="1773.5"/></g>
<g id="n43_88"><circle cx="43.3" cy="1793.8"/></g>
<g id="n76_87"><circle cx="76.7" cy="1773.5"/></g>
<g id="n76_88"><circle cx="76.7" cy="1793.8"/></g>
<g id="n26_89"><circle cx="26" cy="1814"/></g>
<g id="n26_90"><circle cx="26" cy="1834.3"/></g>
<g id="n59_89"><circle cx="59.3" cy="1814"/></g>
<g id="n59_90"><circle cx="59.3" cy="1834.3"/></g>
<g id="n44_91"><circle cx="44.7" cy="1854.6"/></g>
<g id="n44_92"><circle cx="44.7" cy="1874.8"/></g>
<g id="n44_93"><circle cx="44.7" cy="1895.1"/></g>
<g id="n44_94"><circle cx="44.7" cy="1915.4"/></g>
<g id="n78_91"><circle cx="78" cy="1854.6"/></g>
<g id="n78_92"><circle cx="78" cy="1874.8"/></g>
<g id="n78_93"><circle cx="78" cy="1895.1"/></g>
<g id="n78_94"><circle cx="78" cy="1915.4"/></g>
<g id="n11_93"><circle cx="11.3" cy="1895.1"/></g>
<g id="n11_94"><circle cx="11.3" cy="1915.4"/></g>
<g id="n28_95"><circle cx="28.7" cy="1935.7"/></g>
<g id="n28_96"><circle cx="28.7" cy="1955.9"/></g>
<g id="n62_95"><circle cx="62" cy="1935.7"/></g>
<g id="n62_96"><circle cx="62" cy="1955.9"/></g>
<g id="n111_93"><circle cx="111.3" cy="1895.1"/></g>
<g id="n111_94"><circle cx="111.3" cy="1915.4"/></g>
<g id="n111_95"><circle cx="111.3" cy="1935.7"/></g>
<g id="n111_96"><circle cx="111.3" cy="1955.9"/></g>
<g id="n111_97"><circle cx="111.3" cy="1976.2"/></g>
<g id="n111_98"><circle cx="111.3" cy="1996.5"/></g>
<g id="n271_77"><circle cx="271.3" cy="1570.8"/></g>
<g id="n271_78"><circle cx="271.3" cy="1591.1"/></g>
<g id="n271_79"><circle cx="271.3" cy="1611.3"/></g>
<g id="n271_80"><circle cx="271.3" cy="1631.6"/></g>
<g id="n304_77"><circle cx="304.7" cy="1570.8"/></g>
<g id="n304_78"><circle cx="304.7" cy="1591.1"/></g>
<g id="n234_79"><circle cx="234" cy="1611.3"/></g>
<g id="n232_80"><circle cx="232.7" cy="1631.6"/></g>
<g id="n230_81"><circle cx="230" cy="1651.9"/></g>
<g id="n230_82"><circle cx="230" cy="1672.1"/></g>
<g id="n263_81"><circle cx="263.3" cy="1651.9"/></g>
<g id="n263_82"><circle cx="263.3" cy="1672.1"/></g>
<g id="n263_83"><circle cx="263.3" cy="1692.4"/></g>
<g id="n263_84"><circle cx="263.3" cy="1712.7"/></g>
<g id="n263_85"><circle cx="263.3" cy="1733"/></g>
<g id="n263_86"><circle cx="263.3" cy="1753.2"/></g>
<g id="n296_81"><circle cx="296.7" cy="1651.9"/></g>
<g id="n296_82"><circle cx="296.7" cy="1672.1"/></g>
<g id="n296_83"><circle cx="296.7" cy="1692.4"/></g>
<g id="n296_84"><circle cx="296.7" cy="1712.7"/></g>
<g id="n296_85"><circle cx="296.7" cy="1733"/></g>
<g id="n296_86"><circle cx="296.7" cy="1753.2"/></g>
<g id="n311_79"><circle cx="311.3" cy="1611.3"/></g>
<g id="n316_80"><circle cx="316.7" cy="1631.6"/></g>
<g id="n330_81"><circle cx="330" cy="1651.9"/></g>
<g id="n330_82"><circle cx="330" cy="1672.1"/></g>
<g id="n230_85"><circle cx="230" cy="1733"/></g>
<g id="n230_86"><circle cx="230" cy="1753.2"/></g>
<g id="n230_87"><circle cx="230" cy="1773.5"/></g>
<g id="n230_88"><circle cx="230" cy="1793.8"/></g>
<g id="n230_89"><circle cx="230" cy="1814"/></g>
<g id="n230_90"><circle cx="230" cy="1834.3"/></g>
<g id="n196_87"><circle cx="196.7" cy="1773.5"/></g>
<g id="n196_88"><circle cx="196.7" cy="1793.8"/></g>
<g id="n330_85"><circle cx="330" cy="1733"/></g>
<g id="n330_86"><circle cx="330" cy="1753.2"/></g>
<g id="n279_87"><circle cx="279.3" cy="1773.5"/></g>
<g id="n279_88"><circle cx="279.3" cy="1793.8"/></g>
<g id="n312_87"><circle cx="312.7" cy="1773.5"/></g>
<g id="n312_88"><circle cx="312.7" cy="1793.8"/></g>
<g id="n312_89"><circle cx="312.7" cy="1814"/></g>
<g id="n312_90"><circle cx="312.7" cy="1834.3"/></g>
<g id="n312_91"><circle cx="312.7" cy="1854.6"/></g>
<g id="n312_92"><circle cx="312.7" cy="1874.8"/></g>
<g id="n312_93"><circle cx="312.7" cy="1895.1"/></g>
<g id="n312_94"><circle cx="312.7" cy="1915.4"/></g>
<g id="n312_95"><circle cx="312.7" cy="1935.7"/></g>
<g id="n312_96"><circle cx="312.7" cy="1955.9"/></g>
<g id="n346_87"><circle cx="346" cy="1773.5"/></g>
<g id="n346_88"><circle cx="346" cy="1793.8"/></g>
<g id="n346_89"><circle cx="346" cy="1814"/></g>
<g id="n346_90"><circle cx="346" cy="1834.3"/></g>
<g id="n346_91"><circle cx="346" cy="1854.6"/></g>
<g id="n346_92"><circle cx="346" cy="1874.8"/></g>
<g id="n346_93"><circle cx="346" cy="1895.1"/></g>
<g id="n346_94"><circle cx="346" cy="1915.4"/></g>
<g id="n279_91"><circle cx="279.3" cy="1854.6"/></g>
<g id="n279_92"><circle cx="279.3" cy="1874.8"/></g>
<g id="n279_93"><circle cx="279.3" cy="1895.1"/></g>
<g id="n279_94"><circle cx="279.3" cy="1915.4"/></g>
<g id="n296_97"><circle cx="296.7" cy="1976.2"/></g>
<g id="n296_98"><circle cx="296.7" cy="1996.5"/></g>
<g id="n330_97"><circle cx="330" cy="1976.2"/></g>
<g id="n330_98"><circle cx="330" cy="1996.5"/></g>
<g id="n330_99"><circle cx="330" cy="2016.7"/></g>
<g id="n330_100"><circle cx="330" cy="2037"/></g>
<g id="n324_75"><circle cx="324.7" cy="1530.3"/></g>
<g id="n332_76"><circle cx="332.7" cy="1550.5"/></g>
<g id="n354_77"><circle cx="354" cy="1570.8"/></g>
<g id="n355_78"><circle cx="355.3" cy="1591.1"/></g>
<g id="n363_79"><circle cx="363.3" cy="1611.3"/></g>
<g id="n363_80"><circle cx="363.3" cy="1631.6"/></g>
<g id="n363_81"><circle cx="363.3" cy="1651.9"/></g>
<g id="n363_82"><circle cx="363.3" cy="1672.1"/></g>
<g id="n363_83"><circle cx="363.3" cy="1692.4"/></g>
<g id="n363_84"><circle cx="363.3" cy="1712.7"/></g>
<g id="n363_85"><circle cx="363.3" cy="1733"/></g>
<g id="n363_86"><circle cx="363.3" cy="1753.2"/></g>
<g id="n396_83"><circle cx="396.7" cy="1692.4"/></g>
<g id="n396_84"><circle cx="396.7" cy="1712.7"/></g>
<g id="n396_85"><circle cx="396.7" cy="1733"/></g>
<g id="n396_86"><circle cx="396.7" cy="1753.2"/></g>
<g id="n379_87"><circle cx="379.3" cy="1773.5"/></g>
<g id="n379_88"><circle cx="379.3" cy="1793.8"/></g>
<g id="n412_87"><circle cx="412.7" cy="1773.5"/></g>
<g id="n412_88"><circle cx="412.7" cy="1793.8"/></g>
</svg>
